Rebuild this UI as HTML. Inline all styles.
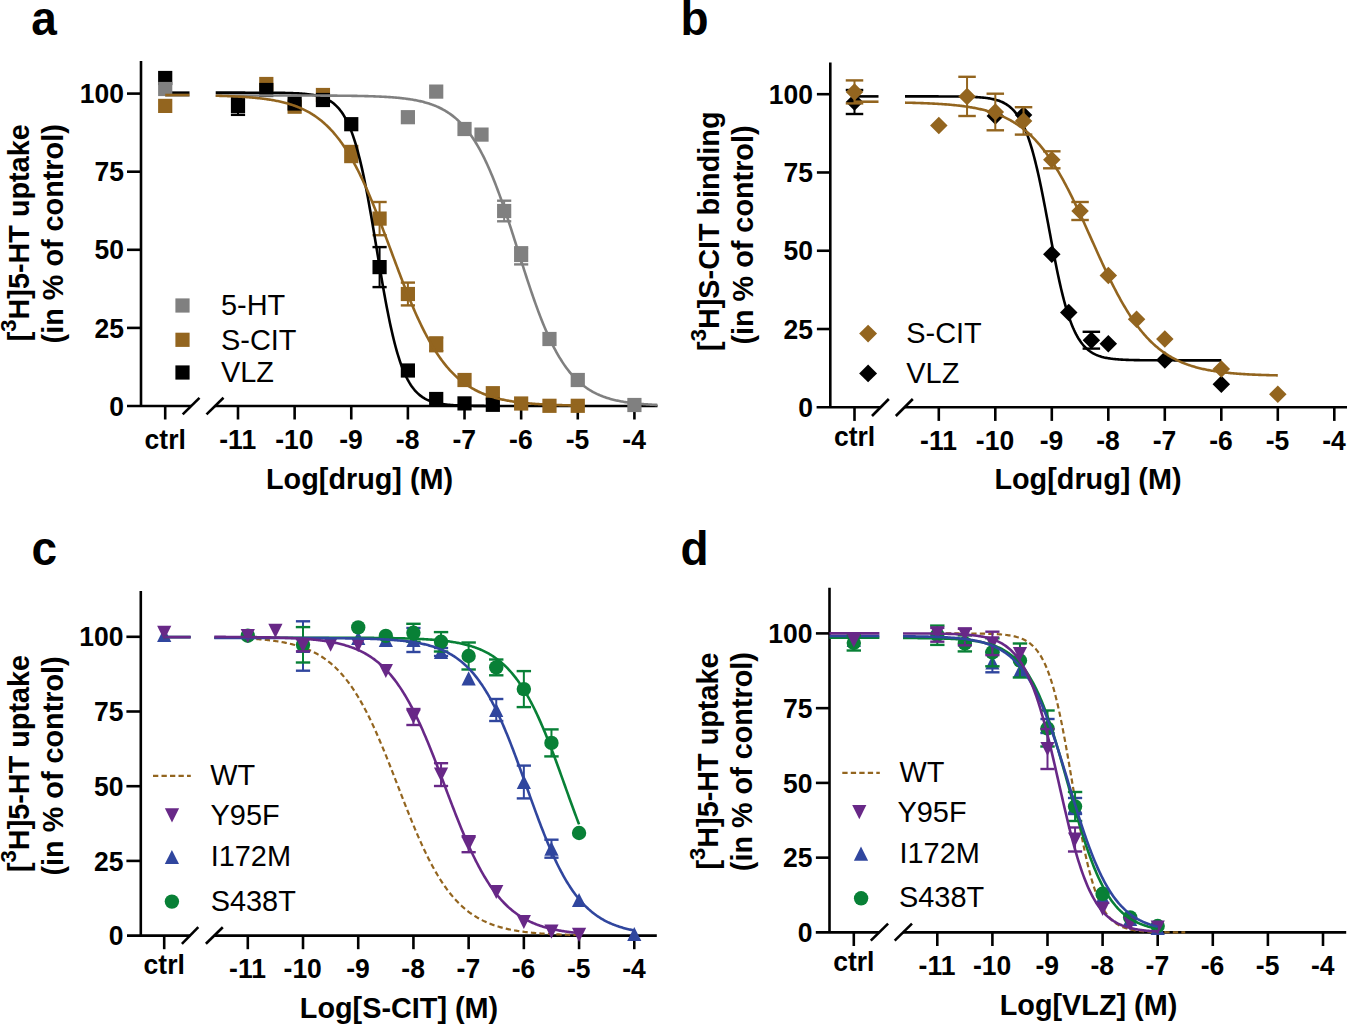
<!DOCTYPE html>
<html><head><meta charset="utf-8"><style>
html,body{margin:0;padding:0;background:#fff;}
body{width:1347px;height:1025px;overflow:hidden;}
svg{display:block;font-family:"Liberation Sans", sans-serif;}
</style></head><body>
<svg width="1347" height="1025" viewBox="0 0 1347 1025">
<rect width="1347" height="1025" fill="#fff"/>
<line x1="141" y1="61" x2="141" y2="406" stroke="#000000" stroke-width="2.6" />
<line x1="127" y1="327.9" x2="141" y2="327.9" stroke="#000000" stroke-width="2.6" />
<line x1="127" y1="249.8" x2="141" y2="249.8" stroke="#000000" stroke-width="2.6" />
<line x1="127" y1="171.7" x2="141" y2="171.7" stroke="#000000" stroke-width="2.6" />
<line x1="127" y1="93.6" x2="141" y2="93.6" stroke="#000000" stroke-width="2.6" />
<line x1="127" y1="406" x2="191" y2="406" stroke="#000000" stroke-width="2.6" />
<line x1="215" y1="406" x2="657.5" y2="406" stroke="#000000" stroke-width="2.6" />
<line x1="165.2" y1="406" x2="165.2" y2="419.5" stroke="#000000" stroke-width="2.6" />
<line x1="238" y1="406" x2="238" y2="419.5" stroke="#000000" stroke-width="2.6" />
<line x1="294.63" y1="406" x2="294.63" y2="419.5" stroke="#000000" stroke-width="2.6" />
<line x1="351.26" y1="406" x2="351.26" y2="419.5" stroke="#000000" stroke-width="2.6" />
<line x1="407.89" y1="406" x2="407.89" y2="419.5" stroke="#000000" stroke-width="2.6" />
<line x1="464.52" y1="406" x2="464.52" y2="419.5" stroke="#000000" stroke-width="2.6" />
<line x1="521.15" y1="406" x2="521.15" y2="419.5" stroke="#000000" stroke-width="2.6" />
<line x1="577.78" y1="406" x2="577.78" y2="419.5" stroke="#000000" stroke-width="2.6" />
<line x1="634.41" y1="406" x2="634.41" y2="419.5" stroke="#000000" stroke-width="2.6" />
<line x1="182.7" y1="414.4" x2="199.5" y2="397.8" stroke="#000000" stroke-width="2.6" />
<line x1="206.5" y1="414.4" x2="223.5" y2="397.8" stroke="#000000" stroke-width="2.6" />
<text transform="translate(124,415.6) scale(1,1.05)" font-size="26.5" font-weight="bold" text-anchor="end" fill="#000000" >0</text>
<text transform="translate(124,337.5) scale(1,1.05)" font-size="26.5" font-weight="bold" text-anchor="end" fill="#000000" >25</text>
<text transform="translate(124,259.4) scale(1,1.05)" font-size="26.5" font-weight="bold" text-anchor="end" fill="#000000" >50</text>
<text transform="translate(124,181.3) scale(1,1.05)" font-size="26.5" font-weight="bold" text-anchor="end" fill="#000000" >75</text>
<text transform="translate(124,103.2) scale(1,1.05)" font-size="26.5" font-weight="bold" text-anchor="end" fill="#000000" >100</text>
<text transform="translate(165.2,448.6) scale(1,1.05)" font-size="26.5" font-weight="bold" text-anchor="middle" fill="#000000" >ctrl</text>
<text transform="translate(237.7,448.6) scale(1,1.05)" font-size="26.5" font-weight="bold" text-anchor="middle" fill="#000000" >-11</text>
<text transform="translate(294.33,448.6) scale(1,1.05)" font-size="26.5" font-weight="bold" text-anchor="middle" fill="#000000" >-10</text>
<text transform="translate(350.96,448.6) scale(1,1.05)" font-size="26.5" font-weight="bold" text-anchor="middle" fill="#000000" >-9</text>
<text transform="translate(407.59,448.6) scale(1,1.05)" font-size="26.5" font-weight="bold" text-anchor="middle" fill="#000000" >-8</text>
<text transform="translate(464.22,448.6) scale(1,1.05)" font-size="26.5" font-weight="bold" text-anchor="middle" fill="#000000" >-7</text>
<text transform="translate(520.85,448.6) scale(1,1.05)" font-size="26.5" font-weight="bold" text-anchor="middle" fill="#000000" >-6</text>
<text transform="translate(577.48,448.6) scale(1,1.05)" font-size="26.5" font-weight="bold" text-anchor="middle" fill="#000000" >-5</text>
<text transform="translate(634.11,448.6) scale(1,1.05)" font-size="26.5" font-weight="bold" text-anchor="middle" fill="#000000" >-4</text>
<text x="359.6" y="488.6" font-size="28.8" font-weight="bold" text-anchor="middle" fill="#000000" >Log[drug] (M)</text>
<text transform="translate(28.8,341.3) rotate(-90)" font-size="28.8" font-weight="bold" text-anchor="start">[<tspan font-size="22" dy="-12.4">3</tspan><tspan dy="12.4">H]</tspan>5-HT uptake</text>
<text transform="translate(63.4,343.4) rotate(-90)" font-size="28.8" font-weight="bold" text-anchor="start">(in % of control)</text>
<text transform="translate(31.2,35.3) scale(1,1.025)" font-size="46" font-weight="bold" text-anchor="start" fill="#000000" >a</text>
<line x1="351.26" y1="146" x2="351.26" y2="162" stroke="#93651F" stroke-width="2.0" />
<line x1="344.16" y1="146" x2="358.36" y2="146" stroke="#93651F" stroke-width="2.4" />
<line x1="344.16" y1="162" x2="358.36" y2="162" stroke="#93651F" stroke-width="2.4" />
<line x1="379.58" y1="202" x2="379.58" y2="235.2" stroke="#93651F" stroke-width="2.0" />
<line x1="372.48" y1="202" x2="386.68" y2="202" stroke="#93651F" stroke-width="2.4" />
<line x1="372.48" y1="235.2" x2="386.68" y2="235.2" stroke="#93651F" stroke-width="2.4" />
<line x1="407.89" y1="282.6" x2="407.89" y2="305.4" stroke="#93651F" stroke-width="2.0" />
<line x1="400.79" y1="282.6" x2="414.99" y2="282.6" stroke="#93651F" stroke-width="2.4" />
<line x1="400.79" y1="305.4" x2="414.99" y2="305.4" stroke="#93651F" stroke-width="2.4" />
<line x1="436.21" y1="337.4" x2="436.21" y2="351.2" stroke="#93651F" stroke-width="2.0" />
<line x1="429.11" y1="337.4" x2="443.31" y2="337.4" stroke="#93651F" stroke-width="2.4" />
<line x1="429.11" y1="351.2" x2="443.31" y2="351.2" stroke="#93651F" stroke-width="2.4" />
<rect x="158.1" y="98.8" width="14.2" height="14.2" fill="#93651F"/>
<rect x="259.21" y="76.9" width="14.2" height="14.2" fill="#93651F"/>
<rect x="287.53" y="99.6" width="14.2" height="14.2" fill="#93651F"/>
<rect x="315.84" y="87.9" width="14.2" height="14.2" fill="#93651F"/>
<rect x="344.16" y="146.9" width="14.2" height="14.2" fill="#93651F"/>
<rect x="372.48" y="211.5" width="14.2" height="14.2" fill="#93651F"/>
<rect x="400.79" y="286.9" width="14.2" height="14.2" fill="#93651F"/>
<rect x="429.11" y="337.2" width="14.2" height="14.2" fill="#93651F"/>
<rect x="457.42" y="372.9" width="14.2" height="14.2" fill="#93651F"/>
<rect x="485.74" y="386.1" width="14.2" height="14.2" fill="#93651F"/>
<rect x="514.05" y="396.4" width="14.2" height="14.2" fill="#93651F"/>
<rect x="542.37" y="398.7" width="14.2" height="14.2" fill="#93651F"/>
<rect x="570.68" y="398.7" width="14.2" height="14.2" fill="#93651F"/>
<line x1="238" y1="98.3" x2="238" y2="114.85" stroke="#000000" stroke-width="2.0" />
<line x1="230.9" y1="98.3" x2="245.1" y2="98.3" stroke="#000000" stroke-width="2.4" />
<line x1="230.9" y1="114.85" x2="245.1" y2="114.85" stroke="#000000" stroke-width="2.4" />
<line x1="379.58" y1="247.1" x2="379.58" y2="287.1" stroke="#000000" stroke-width="2.0" />
<line x1="372.48" y1="247.1" x2="386.68" y2="247.1" stroke="#000000" stroke-width="2.4" />
<line x1="372.48" y1="287.1" x2="386.68" y2="287.1" stroke="#000000" stroke-width="2.4" />
<rect x="158.1" y="70.9" width="14.2" height="14.2" fill="#000000"/>
<rect x="230.9" y="98.9" width="14.2" height="14.2" fill="#000000"/>
<rect x="259.21" y="82.9" width="14.2" height="14.2" fill="#000000"/>
<rect x="287.53" y="96.4" width="14.2" height="14.2" fill="#000000"/>
<rect x="315.84" y="92.9" width="14.2" height="14.2" fill="#000000"/>
<rect x="344.16" y="117.1" width="14.2" height="14.2" fill="#000000"/>
<rect x="372.48" y="260" width="14.2" height="14.2" fill="#000000"/>
<rect x="400.79" y="363.4" width="14.2" height="14.2" fill="#000000"/>
<rect x="429.11" y="391.9" width="14.2" height="14.2" fill="#000000"/>
<rect x="457.42" y="396.3" width="14.2" height="14.2" fill="#000000"/>
<rect x="485.74" y="397.7" width="14.2" height="14.2" fill="#000000"/>
<line x1="165.2" y1="92.66" x2="189.5" y2="92.66" stroke="#000000" stroke-width="2.6" />
<polyline points="215.7,92.66 216.7,92.66 217.7,92.66 218.7,92.66 219.7,92.66 220.7,92.66 221.7,92.66 222.7,92.66 223.7,92.67 224.7,92.67 225.7,92.67 226.71,92.67 227.71,92.67 228.71,92.67 229.71,92.67 230.71,92.67 231.71,92.67 232.71,92.67 233.71,92.67 234.71,92.67 235.71,92.67 236.71,92.67 237.71,92.67 238.71,92.67 239.71,92.67 240.71,92.67 241.71,92.67 242.71,92.67 243.71,92.67 244.71,92.67 245.71,92.68 246.72,92.68 247.72,92.68 248.72,92.68 249.72,92.68 250.72,92.68 251.72,92.68 252.72,92.68 253.72,92.69 254.72,92.69 255.72,92.69 256.72,92.69 257.72,92.69 258.72,92.7 259.72,92.7 260.72,92.7 261.72,92.71 262.72,92.71 263.72,92.71 264.72,92.72 265.72,92.72 266.72,92.73 267.73,92.73 268.73,92.74 269.73,92.74 270.73,92.75 271.73,92.76 272.73,92.76 273.73,92.77 274.73,92.78 275.73,92.79 276.73,92.8 277.73,92.81 278.73,92.82 279.73,92.84 280.73,92.85 281.73,92.87 282.73,92.88 283.73,92.9 284.73,92.92 285.73,92.94 286.73,92.96 287.74,92.99 288.74,93.01 289.74,93.04 290.74,93.07 291.74,93.1 292.74,93.14 293.74,93.18 294.74,93.22 295.74,93.26 296.74,93.31 297.74,93.36 298.74,93.42 299.74,93.48 300.74,93.54 301.74,93.61 302.74,93.69 303.74,93.77 304.74,93.86 305.74,93.96 306.74,94.06 307.74,94.17 308.75,94.29 309.75,94.42 310.75,94.56 311.75,94.72 312.75,94.88 313.75,95.06 314.75,95.25 315.75,95.45 316.75,95.68 317.75,95.91 318.75,96.17 319.75,96.45 320.75,96.75 321.75,97.08 322.75,97.43 323.75,97.8 324.75,98.21 325.75,98.65 326.75,99.12 327.75,99.62 328.76,100.17 329.76,100.76 330.76,101.39 331.76,102.07 332.76,102.8 333.76,103.59 334.76,104.43 335.76,105.34 336.76,106.31 337.76,107.36 338.76,108.48 339.76,109.68 340.76,110.97 341.76,112.35 342.76,113.82 343.76,115.4 344.76,117.08 345.76,118.88 346.76,120.8 347.76,122.84 348.76,125.02 349.77,127.33 350.77,129.79 351.77,132.39 352.77,135.15 353.77,138.07 354.77,141.16 355.77,144.41 356.77,147.84 357.77,151.44 358.77,155.22 359.77,159.18 360.77,163.32 361.77,167.64 362.77,172.13 363.77,176.8 364.77,181.64 365.77,186.65 366.77,191.81 367.77,197.12 368.77,202.57 369.78,208.15 370.78,213.84 371.78,219.63 372.78,225.51 373.78,231.46 374.78,237.46 375.78,243.49 376.78,249.54 377.78,255.59 378.78,261.63 379.78,267.62 380.78,273.57 381.78,279.44 382.78,285.22 383.78,290.91 384.78,296.47 385.78,301.91 386.78,307.22 387.78,312.37 388.78,317.36 389.78,322.19 390.79,326.85 391.79,331.34 392.79,335.64 393.79,339.77 394.79,343.72 395.79,347.48 396.79,351.07 397.79,354.49 398.79,357.73 399.79,360.8 400.79,363.71 401.79,366.46 402.79,369.05 403.79,371.5 404.79,373.8 405.79,375.97 406.79,378 407.79,379.91 408.79,381.7 409.79,383.38 410.8,384.95 411.8,386.41 412.8,387.79 413.8,389.07 414.8,390.26 415.8,391.38 416.8,392.42 417.8,393.39 418.8,394.29 419.8,395.13 420.8,395.92 421.8,396.64 422.8,397.32 423.8,397.95 424.8,398.53 425.8,399.08 426.8,399.58 427.8,400.05 428.8,400.48 429.8,400.89 430.8,401.26 431.81,401.61 432.81,401.93 433.81,402.23 434.81,402.51 435.81,402.77 436.81,403 437.81,403.22 438.81,403.43 439.81,403.62 440.81,403.79 441.81,403.96 442.81,404.11 443.81,404.25 444.81,404.38 445.81,404.5 446.81,404.61 447.81,404.71 448.81,404.81 449.81,404.9 450.81,404.98 451.82,405.05 452.82,405.12 453.82,405.19 454.82,405.25 455.82,405.3 456.82,405.36 457.82,405.4 458.82,405.45 459.82,405.49 460.82,405.53 461.82,405.56 462.82,405.59 463.82,405.63 464.82,405.65 465.82,405.68 466.82,405.7 467.82,405.72 468.82,405.75 469.82,405.76 470.82,405.78 471.82,405.8 472.83,405.81 473.83,405.83 474.83,405.84 475.83,405.85 476.83,405.86 477.83,405.87 478.83,405.88 479.83,405.89 480.83,405.9 481.83,405.91 482.83,405.91 483.83,405.92 484.83,405.93 485.83,405.93 486.83,405.94 487.83,405.94 488.83,405.95 489.83,405.95 490.83,405.95 491.83,405.96 492.84,405.96" fill="none" stroke="#000000" stroke-width="2.6" stroke-linejoin="round"/>
<line x1="504.16" y1="200.7" x2="504.16" y2="221.3" stroke="#808080" stroke-width="2.0" />
<line x1="497.06" y1="200.7" x2="511.26" y2="200.7" stroke="#808080" stroke-width="2.4" />
<line x1="497.06" y1="221.3" x2="511.26" y2="221.3" stroke="#808080" stroke-width="2.4" />
<line x1="521.15" y1="247.3" x2="521.15" y2="264.4" stroke="#808080" stroke-width="2.0" />
<line x1="514.05" y1="247.3" x2="528.25" y2="247.3" stroke="#808080" stroke-width="2.4" />
<line x1="514.05" y1="264.4" x2="528.25" y2="264.4" stroke="#808080" stroke-width="2.4" />
<rect x="158.1" y="81.9" width="14.2" height="14.2" fill="#808080"/>
<rect x="400.79" y="110.1" width="14.2" height="14.2" fill="#808080"/>
<rect x="429.11" y="84.5" width="14.2" height="14.2" fill="#808080"/>
<rect x="457.42" y="121.9" width="14.2" height="14.2" fill="#808080"/>
<rect x="474.41" y="127.5" width="14.2" height="14.2" fill="#808080"/>
<rect x="497.06" y="203.9" width="14.2" height="14.2" fill="#808080"/>
<rect x="514.05" y="247.9" width="14.2" height="14.2" fill="#808080"/>
<rect x="542.37" y="331.9" width="14.2" height="14.2" fill="#808080"/>
<rect x="570.68" y="372.9" width="14.2" height="14.2" fill="#808080"/>
<rect x="627.31" y="397.9" width="14.2" height="14.2" fill="#808080"/>
<line x1="165.2" y1="95.4" x2="189.5" y2="95.4" stroke="#808080" stroke-width="2.6" />
<polyline points="215.7,95.48 216.7,95.48 217.7,95.48 218.7,95.48 219.71,95.48 220.71,95.48 221.71,95.48 222.71,95.48 223.71,95.48 224.71,95.48 225.72,95.48 226.72,95.48 227.72,95.48 228.72,95.48 229.72,95.48 230.72,95.48 231.73,95.48 232.73,95.48 233.73,95.48 234.73,95.48 235.73,95.48 236.73,95.48 237.73,95.48 238.74,95.48 239.74,95.48 240.74,95.48 241.74,95.48 242.74,95.48 243.74,95.48 244.75,95.48 245.75,95.48 246.75,95.48 247.75,95.48 248.75,95.48 249.75,95.48 250.76,95.48 251.76,95.48 252.76,95.48 253.76,95.48 254.76,95.48 255.76,95.48 256.77,95.48 257.77,95.48 258.77,95.48 259.77,95.48 260.77,95.48 261.77,95.48 262.77,95.48 263.78,95.48 264.78,95.48 265.78,95.49 266.78,95.49 267.78,95.49 268.78,95.49 269.79,95.49 270.79,95.49 271.79,95.49 272.79,95.49 273.79,95.49 274.79,95.49 275.8,95.49 276.8,95.49 277.8,95.49 278.8,95.49 279.8,95.49 280.8,95.49 281.8,95.5 282.81,95.5 283.81,95.5 284.81,95.5 285.81,95.5 286.81,95.5 287.81,95.5 288.82,95.5 289.82,95.5 290.82,95.5 291.82,95.51 292.82,95.51 293.82,95.51 294.83,95.51 295.83,95.51 296.83,95.51 297.83,95.51 298.83,95.52 299.83,95.52 300.83,95.52 301.84,95.52 302.84,95.52 303.84,95.53 304.84,95.53 305.84,95.53 306.84,95.53 307.85,95.53 308.85,95.54 309.85,95.54 310.85,95.54 311.85,95.55 312.85,95.55 313.86,95.55 314.86,95.55 315.86,95.56 316.86,95.56 317.86,95.57 318.86,95.57 319.87,95.57 320.87,95.58 321.87,95.58 322.87,95.59 323.87,95.59 324.87,95.59 325.87,95.6 326.88,95.61 327.88,95.61 328.88,95.62 329.88,95.62 330.88,95.63 331.88,95.63 332.89,95.64 333.89,95.65 334.89,95.66 335.89,95.66 336.89,95.67 337.89,95.68 338.9,95.69 339.9,95.7 340.9,95.71 341.9,95.72 342.9,95.73 343.9,95.74 344.9,95.75 345.91,95.76 346.91,95.77 347.91,95.78 348.91,95.79 349.91,95.81 350.91,95.82 351.92,95.84 352.92,95.85 353.92,95.87 354.92,95.88 355.92,95.9 356.92,95.92 357.93,95.94 358.93,95.96 359.93,95.97 360.93,96 361.93,96.02 362.93,96.04 363.93,96.06 364.94,96.09 365.94,96.11 366.94,96.14 367.94,96.17 368.94,96.2 369.94,96.23 370.95,96.26 371.95,96.29 372.95,96.32 373.95,96.36 374.95,96.4 375.95,96.43 376.96,96.47 377.96,96.51 378.96,96.56 379.96,96.6 380.96,96.65 381.96,96.7 382.97,96.75 383.97,96.8 384.97,96.86 385.97,96.91 386.97,96.97 387.97,97.03 388.97,97.1 389.98,97.17 390.98,97.24 391.98,97.31 392.98,97.38 393.98,97.46 394.98,97.55 395.99,97.63 396.99,97.72 397.99,97.81 398.99,97.91 399.99,98.01 400.99,98.11 402,98.22 403,98.34 404,98.45 405,98.58 406,98.7 407,98.84 408,98.98 409.01,99.12 410.01,99.27 411.01,99.42 412.01,99.59 413.01,99.76 414.01,99.93 415.02,100.11 416.02,100.3 417.02,100.5 418.02,100.71 419.02,100.92 420.02,101.14 421.03,101.37 422.03,101.61 423.03,101.86 424.03,102.12 425.03,102.39 426.03,102.67 427.03,102.97 428.04,103.27 429.04,103.58 430.04,103.91 431.04,104.25 432.04,104.61 433.04,104.98 434.05,105.36 435.05,105.76 436.05,106.17 437.05,106.6 438.05,107.04 439.05,107.5 440.06,107.98 441.06,108.48 442.06,109 443.06,109.54 444.06,110.09 445.06,110.67 446.07,111.27 447.07,111.89 448.07,112.54 449.07,113.21 450.07,113.9 451.07,114.62 452.07,115.36 453.08,116.13 454.08,116.93 455.08,117.76 456.08,118.62 457.08,119.51 458.08,120.42 459.09,121.38 460.09,122.36 461.09,123.38 462.09,124.43 463.09,125.51 464.09,126.64 465.1,127.8 466.1,129 467.1,130.23 468.1,131.51 469.1,132.83 470.1,134.19 471.1,135.59 472.11,137.03 473.11,138.52 474.11,140.05 475.11,141.63 476.11,143.25 477.11,144.92 478.12,146.64 479.12,148.4 480.12,150.22 481.12,152.08 482.12,153.99 483.12,155.95 484.13,157.95 485.13,160.01 486.13,162.12 487.13,164.27 488.13,166.48 489.13,168.73 490.13,171.04 491.14,173.39 492.14,175.79 493.14,178.24 494.14,180.74 495.14,183.28 496.14,185.87 497.15,188.5 498.15,191.17 499.15,193.89 500.15,196.65 501.15,199.44 502.15,202.28 503.16,205.15 504.16,208.06 505.16,211 506.16,213.97 507.16,216.96 508.16,219.99 509.17,223.04 510.17,226.11 511.17,229.2 512.17,232.31 513.17,235.43 514.17,238.57 515.17,241.72 516.18,244.87 517.18,248.03 518.18,251.19 519.18,254.35 520.18,257.51 521.18,260.66 522.19,263.81 523.19,266.94 524.19,270.06 525.19,273.16 526.19,276.25 527.19,279.32 528.2,282.36 529.2,285.38 530.2,288.37 531.2,291.33 532.2,294.26 533.2,297.15 534.2,300.01 535.21,302.84 536.21,305.62 537.21,308.37 538.21,311.08 539.21,313.74 540.21,316.36 541.22,318.93 542.22,321.46 543.22,323.94 544.22,326.38 545.22,328.76 546.22,331.1 547.23,333.39 548.23,335.63 549.23,337.83 550.23,339.97 551.23,342.06 552.23,344.1 553.23,346.1 554.24,348.04 555.24,349.94 556.24,351.78 557.24,353.58 558.24,355.33 559.24,357.04 560.25,358.69 561.25,360.3 562.25,361.87 563.25,363.39 564.25,364.86 565.25,366.29 566.26,367.68 567.26,369.03 568.26,370.33 569.26,371.6 570.26,372.83 571.26,374.01 572.27,375.16 573.27,376.28 574.27,377.35 575.27,378.39 576.27,379.4 577.27,380.38 578.27,381.32 579.28,382.23 580.28,383.11 581.28,383.95 582.28,384.77 583.28,385.57 584.28,386.33 585.29,387.07 586.29,387.78 587.29,388.46 588.29,389.13 589.29,389.76 590.29,390.38 591.3,390.97 592.3,391.54 593.3,392.1 594.3,392.63 595.3,393.14 596.3,393.63 597.3,394.11 598.31,394.56 599.31,395 600.31,395.43 601.31,395.83 602.31,396.23 603.31,396.61 604.32,396.97 605.32,397.32 606.32,397.66 607.32,397.98 608.32,398.29 609.32,398.59 610.33,398.88 611.33,399.16 612.33,399.43 613.33,399.68 614.33,399.93 615.33,400.17 616.33,400.4 617.34,400.62 618.34,400.83 619.34,401.03 620.34,401.23 621.34,401.41 622.34,401.59 623.35,401.77 624.35,401.93 625.35,402.1 626.35,402.25 627.35,402.4 628.35,402.54 629.36,402.68 630.36,402.81 631.36,402.93 632.36,403.05 633.36,403.17 634.36,403.28 635.37,403.39 636.37,403.49 637.37,403.59 638.37,403.69 639.37,403.78 640.37,403.87 641.37,403.95 642.38,404.03 643.38,404.11 644.38,404.19 645.38,404.26 646.38,404.33 647.38,404.39 648.39,404.46 649.39,404.52 650.39,404.58 651.39,404.63 652.39,404.69 653.39,404.74 654.4,404.79 655.4,404.84 656.4,404.89 657.4,404.93" fill="none" stroke="#808080" stroke-width="2.6" stroke-linejoin="round"/>
<line x1="165.2" y1="95.01" x2="189.5" y2="95.01" stroke="#93651F" stroke-width="2.6" />
<polyline points="215.7,95.73 216.7,95.76 217.7,95.79 218.7,95.81 219.7,95.84 220.7,95.87 221.7,95.9 222.7,95.93 223.7,95.96 224.7,96 225.7,96.03 226.7,96.07 227.7,96.11 228.7,96.15 229.7,96.18 230.7,96.23 231.7,96.27 232.7,96.31 233.7,96.36 234.7,96.41 235.7,96.46 236.7,96.51 237.7,96.56 238.71,96.61 239.71,96.67 240.71,96.73 241.71,96.79 242.71,96.85 243.71,96.91 244.71,96.98 245.71,97.05 246.71,97.12 247.71,97.2 248.71,97.27 249.71,97.35 250.71,97.43 251.71,97.52 252.71,97.61 253.71,97.7 254.71,97.79 255.71,97.89 256.71,97.99 257.71,98.09 258.71,98.2 259.71,98.31 260.71,98.42 261.71,98.54 262.71,98.67 263.71,98.79 264.71,98.92 265.71,99.06 266.71,99.2 267.71,99.35 268.71,99.5 269.71,99.65 270.71,99.81 271.71,99.98 272.71,100.15 273.71,100.33 274.71,100.51 275.71,100.7 276.71,100.9 277.71,101.1 278.71,101.31 279.71,101.53 280.71,101.76 281.71,101.99 282.71,102.23 283.72,102.48 284.72,102.73 285.72,103 286.72,103.27 287.72,103.55 288.72,103.85 289.72,104.15 290.72,104.46 291.72,104.78 292.72,105.11 293.72,105.46 294.72,105.81 295.72,106.18 296.72,106.56 297.72,106.95 298.72,107.35 299.72,107.77 300.72,108.2 301.72,108.64 302.72,109.1 303.72,109.57 304.72,110.06 305.72,110.56 306.72,111.08 307.72,111.62 308.72,112.17 309.72,112.74 310.72,113.33 311.72,113.93 312.72,114.55 313.72,115.2 314.72,115.86 315.72,116.54 316.72,117.25 317.72,117.97 318.72,118.72 319.72,119.48 320.72,120.28 321.72,121.09 322.72,121.93 323.72,122.79 324.72,123.68 325.72,124.59 326.72,125.53 327.72,126.49 328.72,127.48 329.73,128.5 330.73,129.55 331.73,130.63 332.73,131.73 333.73,132.87 334.73,134.03 335.73,135.23 336.73,136.45 337.73,137.71 338.73,139 339.73,140.32 340.73,141.68 341.73,143.06 342.73,144.49 343.73,145.94 344.73,147.43 345.73,148.96 346.73,150.51 347.73,152.11 348.73,153.74 349.73,155.4 350.73,157.1 351.73,158.84 352.73,160.61 353.73,162.42 354.73,164.26 355.73,166.14 356.73,168.05 357.73,170 358.73,171.99 359.73,174.01 360.73,176.06 361.73,178.15 362.73,180.27 363.73,182.43 364.73,184.62 365.73,186.84 366.73,189.09 367.73,191.38 368.73,193.69 369.73,196.03 370.73,198.41 371.73,200.81 372.73,203.23 373.73,205.68 374.74,208.16 375.74,210.66 376.74,213.18 377.74,215.72 378.74,218.29 379.74,220.87 380.74,223.47 381.74,226.08 382.74,228.71 383.74,231.35 384.74,234 385.74,236.67 386.74,239.34 387.74,242.01 388.74,244.69 389.74,247.38 390.74,250.07 391.74,252.75 392.74,255.44 393.74,258.12 394.74,260.8 395.74,263.47 396.74,266.14 397.74,268.8 398.74,271.44 399.74,274.07 400.74,276.69 401.74,279.3 402.74,281.88 403.74,284.45 404.74,287 405.74,289.53 406.74,292.04 407.74,294.52 408.74,296.98 409.74,299.42 410.74,301.82 411.74,304.21 412.74,306.56 413.74,308.88 414.74,311.18 415.74,313.44 416.74,315.67 417.74,317.87 418.74,320.04 419.75,322.17 420.75,324.27 421.75,326.34 422.75,328.37 423.75,330.36 424.75,332.32 425.75,334.25 426.75,336.14 427.75,337.99 428.75,339.81 429.75,341.6 430.75,343.34 431.75,345.06 432.75,346.73 433.75,348.37 434.75,349.98 435.75,351.55 436.75,353.08 437.75,354.58 438.75,356.05 439.75,357.48 440.75,358.88 441.75,360.25 442.75,361.58 443.75,362.88 444.75,364.15 445.75,365.38 446.75,366.59 447.75,367.76 448.75,368.91 449.75,370.02 450.75,371.11 451.75,372.16 452.75,373.19 453.75,374.19 454.75,375.17 455.75,376.11 456.75,377.04 457.75,377.93 458.75,378.8 459.75,379.65 460.75,380.47 461.75,381.27 462.75,382.04 463.75,382.8 464.76,383.53 465.76,384.24 466.76,384.93 467.76,385.6 468.76,386.25 469.76,386.88 470.76,387.49 471.76,388.08 472.76,388.65 473.76,389.21 474.76,389.75 475.76,390.28 476.76,390.78 477.76,391.28 478.76,391.75 479.76,392.22 480.76,392.67 481.76,393.1 482.76,393.52 483.76,393.93 484.76,394.32 485.76,394.71 486.76,395.08 487.76,395.43 488.76,395.78 489.76,396.12 490.76,396.44 491.76,396.76 492.76,397.06 493.76,397.36 494.76,397.64 495.76,397.92 496.76,398.19 497.76,398.45 498.76,398.7 499.76,398.94 500.76,399.17 501.76,399.4 502.76,399.62 503.76,399.83 504.76,400.04 505.76,400.24 506.76,400.43 507.76,400.62 508.76,400.8 509.76,400.97 510.77,401.14 511.77,401.3 512.77,401.46 513.77,401.61 514.77,401.76 515.77,401.9 516.77,402.04 517.77,402.17 518.77,402.3 519.77,402.42 520.77,402.54 521.77,402.66 522.77,402.77 523.77,402.88 524.77,402.99 525.77,403.09 526.77,403.19 527.77,403.28 528.77,403.37 529.77,403.46 530.77,403.55 531.77,403.63 532.77,403.71 533.77,403.79 534.77,403.86 535.77,403.93 536.77,404 537.77,404.07 538.77,404.14 539.77,404.2 540.77,404.26 541.77,404.32 542.77,404.37 543.77,404.43 544.77,404.48 545.77,404.53 546.77,404.58 547.77,404.63 548.77,404.68 549.77,404.72 550.77,404.77 551.77,404.81 552.77,404.85 553.77,404.89 554.77,404.92 555.78,404.96 556.78,405 557.78,405.03 558.78,405.06 559.78,405.09 560.78,405.13 561.78,405.16 562.78,405.18 563.78,405.21 564.78,405.24 565.78,405.26 566.78,405.29 567.78,405.31 568.78,405.34 569.78,405.36 570.78,405.38 571.78,405.4 572.78,405.42 573.78,405.44 574.78,405.46 575.78,405.48 576.78,405.5 577.78,405.51" fill="none" stroke="#93651F" stroke-width="2.6" stroke-linejoin="round"/>
<rect x="175.4" y="298.4" width="14.2" height="14.2" fill="#808080"/>
<text transform="translate(221,315.3) scale(1,1.02)" font-size="28.9" font-weight="normal" text-anchor="start" fill="#000000" >5-HT</text>
<rect x="175.4" y="332.7" width="14.2" height="14.2" fill="#93651F"/>
<text transform="translate(221,349.6) scale(1,1.02)" font-size="28.9" font-weight="normal" text-anchor="start" fill="#000000" >S-CIT</text>
<rect x="175.4" y="365.4" width="14.2" height="14.2" fill="#000000"/>
<text transform="translate(221,382.3) scale(1,1.02)" font-size="28.9" font-weight="normal" text-anchor="start" fill="#000000" >VLZ</text>
<line x1="830.3" y1="62.6" x2="830.3" y2="407.3" stroke="#000000" stroke-width="2.6" />
<line x1="816.9" y1="329.02" x2="830.3" y2="329.02" stroke="#000000" stroke-width="2.6" />
<line x1="816.9" y1="250.75" x2="830.3" y2="250.75" stroke="#000000" stroke-width="2.6" />
<line x1="816.9" y1="172.48" x2="830.3" y2="172.48" stroke="#000000" stroke-width="2.6" />
<line x1="816.9" y1="94.2" x2="830.3" y2="94.2" stroke="#000000" stroke-width="2.6" />
<line x1="816.6" y1="407.3" x2="880.4" y2="407.3" stroke="#000000" stroke-width="2.6" />
<line x1="904.3" y1="407.3" x2="1347" y2="407.3" stroke="#000000" stroke-width="2.6" />
<line x1="854.5" y1="407.3" x2="854.5" y2="420.9" stroke="#000000" stroke-width="2.6" />
<line x1="938.8" y1="407.3" x2="938.8" y2="420.9" stroke="#000000" stroke-width="2.6" />
<line x1="995.3" y1="407.3" x2="995.3" y2="420.9" stroke="#000000" stroke-width="2.6" />
<line x1="1051.8" y1="407.3" x2="1051.8" y2="420.9" stroke="#000000" stroke-width="2.6" />
<line x1="1108.3" y1="407.3" x2="1108.3" y2="420.9" stroke="#000000" stroke-width="2.6" />
<line x1="1164.8" y1="407.3" x2="1164.8" y2="420.9" stroke="#000000" stroke-width="2.6" />
<line x1="1221.3" y1="407.3" x2="1221.3" y2="420.9" stroke="#000000" stroke-width="2.6" />
<line x1="1277.8" y1="407.3" x2="1277.8" y2="420.9" stroke="#000000" stroke-width="2.6" />
<line x1="1334.3" y1="407.3" x2="1334.3" y2="420.9" stroke="#000000" stroke-width="2.6" />
<line x1="872" y1="416" x2="888.8" y2="399" stroke="#000000" stroke-width="2.6" />
<line x1="895.8" y1="416" x2="912.8" y2="399" stroke="#000000" stroke-width="2.6" />
<text transform="translate(813,416.9) scale(1,1.05)" font-size="26.5" font-weight="bold" text-anchor="end" fill="#000000" >0</text>
<text transform="translate(813,338.62) scale(1,1.05)" font-size="26.5" font-weight="bold" text-anchor="end" fill="#000000" >25</text>
<text transform="translate(813,260.35) scale(1,1.05)" font-size="26.5" font-weight="bold" text-anchor="end" fill="#000000" >50</text>
<text transform="translate(813,182.08) scale(1,1.05)" font-size="26.5" font-weight="bold" text-anchor="end" fill="#000000" >75</text>
<text transform="translate(813,103.8) scale(1,1.05)" font-size="26.5" font-weight="bold" text-anchor="end" fill="#000000" >100</text>
<text transform="translate(854.5,446) scale(1,1.05)" font-size="26.5" font-weight="bold" text-anchor="middle" fill="#000000" >ctrl</text>
<text transform="translate(938.5,449.9) scale(1,1.05)" font-size="26.5" font-weight="bold" text-anchor="middle" fill="#000000" >-11</text>
<text transform="translate(995,449.9) scale(1,1.05)" font-size="26.5" font-weight="bold" text-anchor="middle" fill="#000000" >-10</text>
<text transform="translate(1051.5,449.9) scale(1,1.05)" font-size="26.5" font-weight="bold" text-anchor="middle" fill="#000000" >-9</text>
<text transform="translate(1108,449.9) scale(1,1.05)" font-size="26.5" font-weight="bold" text-anchor="middle" fill="#000000" >-8</text>
<text transform="translate(1164.5,449.9) scale(1,1.05)" font-size="26.5" font-weight="bold" text-anchor="middle" fill="#000000" >-7</text>
<text transform="translate(1221,449.9) scale(1,1.05)" font-size="26.5" font-weight="bold" text-anchor="middle" fill="#000000" >-6</text>
<text transform="translate(1277.5,449.9) scale(1,1.05)" font-size="26.5" font-weight="bold" text-anchor="middle" fill="#000000" >-5</text>
<text transform="translate(1334,449.9) scale(1,1.05)" font-size="26.5" font-weight="bold" text-anchor="middle" fill="#000000" >-4</text>
<text x="1088" y="489.3" font-size="28.8" font-weight="bold" text-anchor="middle" fill="#000000" >Log[drug] (M)</text>
<text transform="translate(718.5,350.9) rotate(-90)" font-size="28.8" font-weight="bold" text-anchor="start">[<tspan font-size="22" dy="-12.4">3</tspan><tspan dy="12.4">H]</tspan>S-CIT binding</text>
<text transform="translate(753,344.6) rotate(-90)" font-size="28.8" font-weight="bold" text-anchor="start">(in % of control)</text>
<text transform="translate(680.6,35.3) scale(1,1.025)" font-size="46" font-weight="bold" text-anchor="start" fill="#000000" >b</text>
<line x1="854.5" y1="90" x2="854.5" y2="114" stroke="#000000" stroke-width="2.0" />
<line x1="845.75" y1="90" x2="863.25" y2="90" stroke="#000000" stroke-width="2.4" />
<line x1="845.75" y1="114" x2="863.25" y2="114" stroke="#000000" stroke-width="2.4" />
<line x1="1091.35" y1="331.8" x2="1091.35" y2="348.6" stroke="#000000" stroke-width="2.0" />
<line x1="1082.6" y1="331.8" x2="1100.1" y2="331.8" stroke="#000000" stroke-width="2.4" />
<line x1="1082.6" y1="348.6" x2="1100.1" y2="348.6" stroke="#000000" stroke-width="2.4" />
<path d="M854.5 93.25L863.25 102L854.5 110.75L845.75 102Z" fill="#000000"/>
<path d="M995.3 107.25L1004.05 116L995.3 124.75L986.55 116Z" fill="#000000"/>
<path d="M1023.55 106.25L1032.3 115L1023.55 123.75L1014.8 115Z" fill="#000000"/>
<path d="M1051.8 245.55L1060.55 254.3L1051.8 263.05L1043.05 254.3Z" fill="#000000"/>
<path d="M1068.75 303.85L1077.5 312.6L1068.75 321.35L1060 312.6Z" fill="#000000"/>
<path d="M1091.35 331.45L1100.1 340.2L1091.35 348.95L1082.6 340.2Z" fill="#000000"/>
<path d="M1108.3 334.95L1117.05 343.7L1108.3 352.45L1099.55 343.7Z" fill="#000000"/>
<path d="M1164.8 351.35L1173.55 360.1L1164.8 368.85L1156.05 360.1Z" fill="#000000"/>
<path d="M1221.3 375.45L1230.05 384.2L1221.3 392.95L1212.55 384.2Z" fill="#000000"/>
<line x1="854.5" y1="96.39" x2="878.5" y2="96.39" stroke="#000000" stroke-width="2.6" />
<polyline points="905,96.39 906,96.39 907,96.39 908,96.39 909,96.39 910,96.39 911.01,96.4 912.01,96.4 913.01,96.4 914.01,96.4 915.01,96.4 916.01,96.4 917.01,96.4 918.01,96.4 919.01,96.4 920.01,96.4 921.02,96.4 922.02,96.4 923.02,96.4 924.02,96.4 925.02,96.4 926.02,96.4 927.02,96.4 928.02,96.41 929.02,96.41 930.02,96.41 931.02,96.41 932.03,96.41 933.03,96.41 934.03,96.41 935.03,96.42 936.03,96.42 937.03,96.42 938.03,96.42 939.03,96.43 940.03,96.43 941.03,96.43 942.04,96.43 943.04,96.44 944.04,96.44 945.04,96.45 946.04,96.45 947.04,96.46 948.04,96.46 949.04,96.47 950.04,96.47 951.04,96.48 952.04,96.49 953.05,96.5 954.05,96.51 955.05,96.52 956.05,96.53 957.05,96.54 958.05,96.55 959.05,96.56 960.05,96.58 961.05,96.6 962.05,96.61 963.06,96.63 964.06,96.65 965.06,96.67 966.06,96.7 967.06,96.72 968.06,96.75 969.06,96.78 970.06,96.82 971.06,96.85 972.06,96.89 973.06,96.93 974.07,96.98 975.07,97.03 976.07,97.08 977.07,97.14 978.07,97.2 979.07,97.27 980.07,97.35 981.07,97.43 982.07,97.52 983.07,97.61 984.08,97.72 985.08,97.83 986.08,97.95 987.08,98.08 988.08,98.22 989.08,98.38 990.08,98.55 991.08,98.73 992.08,98.92 993.08,99.14 994.08,99.37 995.09,99.62 996.09,99.89 997.09,100.18 998.09,100.5 999.09,100.84 1000.09,101.21 1001.09,101.61 1002.09,102.05 1003.09,102.52 1004.09,103.03 1005.09,103.57 1006.1,104.17 1007.1,104.81 1008.1,105.5 1009.1,106.24 1010.1,107.05 1011.1,107.91 1012.1,108.84 1013.1,109.85 1014.1,110.93 1015.1,112.09 1016.11,113.34 1017.11,114.68 1018.11,116.12 1019.11,117.66 1020.11,119.31 1021.11,121.08 1022.11,122.97 1023.11,124.98 1024.11,127.13 1025.11,129.42 1026.11,131.85 1027.12,134.42 1028.12,137.16 1029.12,140.05 1030.12,143.1 1031.12,146.32 1032.12,149.71 1033.12,153.27 1034.12,156.99 1035.12,160.88 1036.12,164.94 1037.13,169.16 1038.13,173.54 1039.13,178.07 1040.13,182.74 1041.13,187.55 1042.13,192.48 1043.13,197.51 1044.13,202.65 1045.13,207.87 1046.13,213.15 1047.13,218.48 1048.14,223.85 1049.14,229.23 1050.14,234.61 1051.14,239.97 1052.14,245.29 1053.14,250.55 1054.14,255.75 1055.14,260.85 1056.14,265.86 1057.14,270.75 1058.15,275.51 1059.15,280.14 1060.15,284.62 1061.15,288.94 1062.15,293.11 1063.15,297.12 1064.15,300.96 1065.15,304.63 1066.15,308.13 1067.15,311.46 1068.15,314.63 1069.16,317.63 1070.16,320.47 1071.16,323.15 1072.16,325.68 1073.16,328.07 1074.16,330.31 1075.16,332.41 1076.16,334.38 1077.16,336.23 1078.16,337.96 1079.17,339.57 1080.17,341.08 1081.17,342.49 1082.17,343.8 1083.17,345.02 1084.17,346.15 1085.17,347.21 1086.17,348.19 1087.17,349.1 1088.17,349.95 1089.17,350.73 1090.18,351.46 1091.18,352.13 1092.18,352.76 1093.18,353.33 1094.18,353.87 1095.18,354.36 1096.18,354.82 1097.18,355.25 1098.18,355.64 1099.18,356 1100.19,356.33 1101.19,356.64 1102.19,356.93 1103.19,357.19 1104.19,357.44 1105.19,357.66 1106.19,357.87 1107.19,358.06 1108.19,358.24 1109.19,358.4 1110.19,358.55 1111.2,358.69 1112.2,358.82 1113.2,358.94 1114.2,359.05 1115.2,359.15 1116.2,359.24 1117.2,359.32 1118.2,359.4 1119.2,359.48 1120.2,359.54 1121.21,359.6 1122.21,359.66 1123.21,359.71 1124.21,359.76 1125.21,359.81 1126.21,359.85 1127.21,359.89 1128.21,359.92 1129.21,359.95 1130.21,359.98 1131.21,360.01 1132.22,360.04 1133.22,360.06 1134.22,360.08 1135.22,360.1 1136.22,360.12 1137.22,360.14 1138.22,360.15 1139.22,360.17 1140.22,360.18 1141.22,360.19 1142.22,360.2 1143.23,360.21 1144.23,360.22 1145.23,360.23 1146.23,360.24 1147.23,360.25 1148.23,360.25 1149.23,360.26 1150.23,360.27 1151.23,360.27 1152.23,360.28 1153.24,360.28 1154.24,360.29 1155.24,360.29 1156.24,360.29 1157.24,360.3 1158.24,360.3 1159.24,360.3 1160.24,360.3 1161.24,360.31 1162.24,360.31 1163.24,360.31 1164.25,360.31 1165.25,360.31 1166.25,360.32 1167.25,360.32 1168.25,360.32 1169.25,360.32 1170.25,360.32 1171.25,360.32 1172.25,360.32 1173.25,360.32 1174.26,360.33 1175.26,360.33 1176.26,360.33 1177.26,360.33 1178.26,360.33 1179.26,360.33 1180.26,360.33 1181.26,360.33 1182.26,360.33 1183.26,360.33 1184.26,360.33 1185.27,360.33 1186.27,360.33 1187.27,360.33 1188.27,360.33 1189.27,360.33 1190.27,360.33 1191.27,360.33 1192.27,360.33 1193.27,360.33 1194.27,360.33 1195.28,360.33 1196.28,360.33 1197.28,360.33 1198.28,360.33 1199.28,360.33 1200.28,360.33 1201.28,360.33 1202.28,360.33 1203.28,360.33 1204.28,360.33 1205.28,360.33 1206.29,360.33 1207.29,360.33 1208.29,360.33 1209.29,360.33 1210.29,360.33 1211.29,360.33 1212.29,360.33 1213.29,360.33 1214.29,360.33 1215.29,360.33 1216.3,360.33 1217.3,360.33 1218.3,360.33 1219.3,360.33 1220.3,360.33 1221.3,360.33" fill="none" stroke="#000000" stroke-width="2.6" stroke-linejoin="round"/>
<line x1="854.5" y1="80.4" x2="854.5" y2="103.4" stroke="#93651F" stroke-width="2.0" />
<line x1="845.75" y1="80.4" x2="863.25" y2="80.4" stroke="#93651F" stroke-width="2.4" />
<line x1="845.75" y1="103.4" x2="863.25" y2="103.4" stroke="#93651F" stroke-width="2.4" />
<line x1="967.05" y1="76.8" x2="967.05" y2="116" stroke="#93651F" stroke-width="2.0" />
<line x1="958.3" y1="76.8" x2="975.8" y2="76.8" stroke="#93651F" stroke-width="2.4" />
<line x1="958.3" y1="116" x2="975.8" y2="116" stroke="#93651F" stroke-width="2.4" />
<line x1="995.3" y1="93.7" x2="995.3" y2="130.3" stroke="#93651F" stroke-width="2.0" />
<line x1="986.55" y1="93.7" x2="1004.05" y2="93.7" stroke="#93651F" stroke-width="2.4" />
<line x1="986.55" y1="130.3" x2="1004.05" y2="130.3" stroke="#93651F" stroke-width="2.4" />
<line x1="1023.55" y1="107.2" x2="1023.55" y2="134.6" stroke="#93651F" stroke-width="2.0" />
<line x1="1014.8" y1="107.2" x2="1032.3" y2="107.2" stroke="#93651F" stroke-width="2.4" />
<line x1="1014.8" y1="134.6" x2="1032.3" y2="134.6" stroke="#93651F" stroke-width="2.4" />
<line x1="1051.8" y1="151.3" x2="1051.8" y2="168.3" stroke="#93651F" stroke-width="2.0" />
<line x1="1043.05" y1="151.3" x2="1060.55" y2="151.3" stroke="#93651F" stroke-width="2.4" />
<line x1="1043.05" y1="168.3" x2="1060.55" y2="168.3" stroke="#93651F" stroke-width="2.4" />
<line x1="1080.05" y1="202" x2="1080.05" y2="220" stroke="#93651F" stroke-width="2.0" />
<line x1="1071.3" y1="202" x2="1088.8" y2="202" stroke="#93651F" stroke-width="2.4" />
<line x1="1071.3" y1="220" x2="1088.8" y2="220" stroke="#93651F" stroke-width="2.4" />
<path d="M854.5 83.15L863.25 91.9L854.5 100.65L845.75 91.9Z" fill="#93651F"/>
<path d="M938.8 116.85L947.55 125.6L938.8 134.35L930.05 125.6Z" fill="#93651F"/>
<path d="M967.05 87.65L975.8 96.4L967.05 105.15L958.3 96.4Z" fill="#93651F"/>
<path d="M995.3 103.25L1004.05 112L995.3 120.75L986.55 112Z" fill="#93651F"/>
<path d="M1023.55 112.15L1032.3 120.9L1023.55 129.65L1014.8 120.9Z" fill="#93651F"/>
<path d="M1051.8 151.05L1060.55 159.8L1051.8 168.55L1043.05 159.8Z" fill="#93651F"/>
<path d="M1080.05 202.25L1088.8 211L1080.05 219.75L1071.3 211Z" fill="#93651F"/>
<path d="M1108.3 266.65L1117.05 275.4L1108.3 284.15L1099.55 275.4Z" fill="#93651F"/>
<path d="M1136.55 310.45L1145.3 319.2L1136.55 327.95L1127.8 319.2Z" fill="#93651F"/>
<path d="M1164.8 330.35L1173.55 339.1L1164.8 347.85L1156.05 339.1Z" fill="#93651F"/>
<path d="M1221.3 360.15L1230.05 368.9L1221.3 377.65L1212.55 368.9Z" fill="#93651F"/>
<path d="M1277.8 385.45L1286.55 394.2L1277.8 402.95L1269.05 394.2Z" fill="#93651F"/>
<line x1="854.5" y1="101.71" x2="878.5" y2="101.71" stroke="#93651F" stroke-width="2.6" />
<polyline points="905,102.66 906,102.68 907,102.7 908.01,102.72 909.01,102.74 910.01,102.77 911.01,102.79 912.02,102.82 913.02,102.84 914.02,102.87 915.02,102.9 916.02,102.93 917.03,102.96 918.03,102.99 919.03,103.02 920.03,103.05 921.03,103.09 922.04,103.12 923.04,103.16 924.04,103.19 925.04,103.23 926.05,103.27 927.05,103.31 928.05,103.36 929.05,103.4 930.05,103.45 931.06,103.49 932.06,103.54 933.06,103.59 934.06,103.64 935.06,103.7 936.07,103.75 937.07,103.81 938.07,103.87 939.07,103.93 940.08,103.99 941.08,104.05 942.08,104.12 943.08,104.19 944.08,104.26 945.09,104.33 946.09,104.41 947.09,104.49 948.09,104.57 949.09,104.65 950.1,104.74 951.1,104.83 952.1,104.92 953.1,105.02 954.11,105.11 955.11,105.22 956.11,105.32 957.11,105.43 958.11,105.54 959.12,105.65 960.12,105.77 961.12,105.9 962.12,106.02 963.12,106.15 964.13,106.29 965.13,106.43 966.13,106.57 967.13,106.72 968.14,106.87 969.14,107.03 970.14,107.19 971.14,107.36 972.14,107.54 973.15,107.71 974.15,107.9 975.15,108.09 976.15,108.29 977.15,108.49 978.16,108.7 979.16,108.92 980.16,109.14 981.16,109.37 982.17,109.61 983.17,109.85 984.17,110.1 985.17,110.36 986.17,110.63 987.18,110.91 988.18,111.19 989.18,111.49 990.18,111.79 991.18,112.1 992.19,112.42 993.19,112.75 994.19,113.1 995.19,113.45 996.2,113.81 997.2,114.19 998.2,114.57 999.2,114.97 1000.2,115.38 1001.21,115.8 1002.21,116.23 1003.21,116.68 1004.21,117.14 1005.22,117.61 1006.22,118.1 1007.22,118.6 1008.22,119.12 1009.22,119.65 1010.23,120.19 1011.23,120.75 1012.23,121.33 1013.23,121.93 1014.23,122.54 1015.24,123.17 1016.24,123.81 1017.24,124.48 1018.24,125.16 1019.25,125.86 1020.25,126.58 1021.25,127.32 1022.25,128.08 1023.25,128.86 1024.26,129.67 1025.26,130.49 1026.26,131.33 1027.26,132.2 1028.26,133.09 1029.27,134 1030.27,134.93 1031.27,135.89 1032.27,136.87 1033.28,137.88 1034.28,138.91 1035.28,139.96 1036.28,141.04 1037.28,142.15 1038.29,143.28 1039.29,144.44 1040.29,145.62 1041.29,146.83 1042.29,148.07 1043.3,149.34 1044.3,150.63 1045.3,151.95 1046.3,153.3 1047.31,154.67 1048.31,156.08 1049.31,157.51 1050.31,158.97 1051.31,160.46 1052.32,161.97 1053.32,163.52 1054.32,165.09 1055.32,166.69 1056.32,168.32 1057.33,169.97 1058.33,171.66 1059.33,173.37 1060.33,175.1 1061.34,176.87 1062.34,178.66 1063.34,180.47 1064.34,182.32 1065.34,184.18 1066.35,186.07 1067.35,187.99 1068.35,189.93 1069.35,191.89 1070.35,193.88 1071.36,195.88 1072.36,197.91 1073.36,199.95 1074.36,202.02 1075.37,204.1 1076.37,206.2 1077.37,208.32 1078.37,210.45 1079.37,212.6 1080.38,214.76 1081.38,216.94 1082.38,219.12 1083.38,221.32 1084.38,223.52 1085.39,225.74 1086.39,227.96 1087.39,230.18 1088.39,232.41 1089.4,234.65 1090.4,236.88 1091.4,239.12 1092.4,241.36 1093.4,243.59 1094.41,245.83 1095.41,248.06 1096.41,250.28 1097.41,252.5 1098.42,254.72 1099.42,256.92 1100.42,259.11 1101.42,261.3 1102.42,263.47 1103.43,265.63 1104.43,267.78 1105.43,269.91 1106.43,272.02 1107.43,274.12 1108.44,276.21 1109.44,278.27 1110.44,280.31 1111.44,282.34 1112.45,284.34 1113.45,286.32 1114.45,288.28 1115.45,290.22 1116.45,292.13 1117.46,294.02 1118.46,295.89 1119.46,297.73 1120.46,299.54 1121.46,301.33 1122.47,303.09 1123.47,304.82 1124.47,306.53 1125.47,308.21 1126.48,309.86 1127.48,311.49 1128.48,313.09 1129.48,314.66 1130.48,316.2 1131.49,317.71 1132.49,319.2 1133.49,320.65 1134.49,322.08 1135.49,323.48 1136.5,324.85 1137.5,326.2 1138.5,327.52 1139.5,328.81 1140.51,330.07 1141.51,331.3 1142.51,332.51 1143.51,333.69 1144.51,334.85 1145.52,335.98 1146.52,337.08 1147.52,338.16 1148.52,339.21 1149.52,340.24 1150.53,341.25 1151.53,342.22 1152.53,343.18 1153.53,344.11 1154.54,345.02 1155.54,345.91 1156.54,346.77 1157.54,347.61 1158.54,348.43 1159.55,349.23 1160.55,350.01 1161.55,350.77 1162.55,351.51 1163.55,352.23 1164.56,352.93 1165.56,353.61 1166.56,354.27 1167.56,354.91 1168.57,355.54 1169.57,356.15 1170.57,356.74 1171.57,357.32 1172.57,357.88 1173.58,358.43 1174.58,358.95 1175.58,359.47 1176.58,359.97 1177.58,360.45 1178.59,360.93 1179.59,361.39 1180.59,361.83 1181.59,362.26 1182.6,362.68 1183.6,363.09 1184.6,363.49 1185.6,363.87 1186.6,364.24 1187.61,364.6 1188.61,364.96 1189.61,365.3 1190.61,365.63 1191.62,365.95 1192.62,366.26 1193.62,366.56 1194.62,366.85 1195.62,367.14 1196.63,367.41 1197.63,367.68 1198.63,367.94 1199.63,368.19 1200.63,368.44 1201.64,368.67 1202.64,368.9 1203.64,369.12 1204.64,369.34 1205.65,369.55 1206.65,369.75 1207.65,369.95 1208.65,370.14 1209.65,370.32 1210.66,370.5 1211.66,370.67 1212.66,370.84 1213.66,371 1214.66,371.16 1215.67,371.31 1216.67,371.46 1217.67,371.6 1218.67,371.74 1219.68,371.88 1220.68,372.01 1221.68,372.13 1222.68,372.26 1223.68,372.37 1224.69,372.49 1225.69,372.6 1226.69,372.71 1227.69,372.81 1228.69,372.91 1229.7,373.01 1230.7,373.11 1231.7,373.2 1232.7,373.29 1233.71,373.37 1234.71,373.46 1235.71,373.54 1236.71,373.61 1237.71,373.69 1238.72,373.76 1239.72,373.83 1240.72,373.9 1241.72,373.97 1242.72,374.03 1243.73,374.1 1244.73,374.16 1245.73,374.22 1246.73,374.27 1247.74,374.33 1248.74,374.38 1249.74,374.43 1250.74,374.48 1251.74,374.53 1252.75,374.58 1253.75,374.62 1254.75,374.67 1255.75,374.71 1256.75,374.75 1257.76,374.79 1258.76,374.83 1259.76,374.86 1260.76,374.9 1261.77,374.94 1262.77,374.97 1263.77,375 1264.77,375.03 1265.77,375.06 1266.78,375.09 1267.78,375.12 1268.78,375.15 1269.78,375.18 1270.78,375.2 1271.79,375.23 1272.79,375.25 1273.79,375.28 1274.79,375.3 1275.8,375.32 1276.8,375.34 1277.8,375.36" fill="none" stroke="#93651F" stroke-width="2.6" stroke-linejoin="round"/>
<path d="M868.1 324.65L877.05 333.6L868.1 342.55L859.15 333.6Z" fill="#93651F"/>
<text transform="translate(906.3,343.2) scale(1,1.02)" font-size="28.9" font-weight="normal" text-anchor="start" fill="#000000" >S-CIT</text>
<path d="M868.1 364.45L877.05 373.4L868.1 382.35L859.15 373.4Z" fill="#000000"/>
<text transform="translate(906.3,383) scale(1,1.02)" font-size="28.9" font-weight="normal" text-anchor="start" fill="#000000" >VLZ</text>
<line x1="140.8" y1="591" x2="140.8" y2="935.6" stroke="#000000" stroke-width="2.6" />
<line x1="126.4" y1="860.9" x2="140.8" y2="860.9" stroke="#000000" stroke-width="2.6" />
<line x1="126.4" y1="786.2" x2="140.8" y2="786.2" stroke="#000000" stroke-width="2.6" />
<line x1="126.4" y1="711.5" x2="140.8" y2="711.5" stroke="#000000" stroke-width="2.6" />
<line x1="126.4" y1="636.8" x2="140.8" y2="636.8" stroke="#000000" stroke-width="2.6" />
<line x1="127" y1="935.6" x2="190.2" y2="935.6" stroke="#000000" stroke-width="2.6" />
<line x1="214" y1="935.6" x2="656.8" y2="935.6" stroke="#000000" stroke-width="2.6" />
<line x1="164.2" y1="935.6" x2="164.2" y2="949.2" stroke="#000000" stroke-width="2.6" />
<line x1="247.8" y1="935.6" x2="247.8" y2="949.2" stroke="#000000" stroke-width="2.6" />
<line x1="303.01" y1="935.6" x2="303.01" y2="949.2" stroke="#000000" stroke-width="2.6" />
<line x1="358.22" y1="935.6" x2="358.22" y2="949.2" stroke="#000000" stroke-width="2.6" />
<line x1="413.43" y1="935.6" x2="413.43" y2="949.2" stroke="#000000" stroke-width="2.6" />
<line x1="468.64" y1="935.6" x2="468.64" y2="949.2" stroke="#000000" stroke-width="2.6" />
<line x1="523.85" y1="935.6" x2="523.85" y2="949.2" stroke="#000000" stroke-width="2.6" />
<line x1="579.06" y1="935.6" x2="579.06" y2="949.2" stroke="#000000" stroke-width="2.6" />
<line x1="634.27" y1="935.6" x2="634.27" y2="949.2" stroke="#000000" stroke-width="2.6" />
<line x1="181.9" y1="943.8" x2="198.3" y2="927.2" stroke="#000000" stroke-width="2.6" />
<line x1="205.9" y1="943.8" x2="222.8" y2="927.2" stroke="#000000" stroke-width="2.6" />
<text transform="translate(123.4,945.2) scale(1,1.05)" font-size="26.5" font-weight="bold" text-anchor="end" fill="#000000" >0</text>
<text transform="translate(123.4,870.5) scale(1,1.05)" font-size="26.5" font-weight="bold" text-anchor="end" fill="#000000" >25</text>
<text transform="translate(123.4,795.8) scale(1,1.05)" font-size="26.5" font-weight="bold" text-anchor="end" fill="#000000" >50</text>
<text transform="translate(123.4,721.1) scale(1,1.05)" font-size="26.5" font-weight="bold" text-anchor="end" fill="#000000" >75</text>
<text transform="translate(123.4,646.4) scale(1,1.05)" font-size="26.5" font-weight="bold" text-anchor="end" fill="#000000" >100</text>
<text transform="translate(164.2,973.9) scale(1,1.05)" font-size="26.5" font-weight="bold" text-anchor="middle" fill="#000000" >ctrl</text>
<text transform="translate(247.5,978.3) scale(1,1.05)" font-size="26.5" font-weight="bold" text-anchor="middle" fill="#000000" >-11</text>
<text transform="translate(302.71,978.3) scale(1,1.05)" font-size="26.5" font-weight="bold" text-anchor="middle" fill="#000000" >-10</text>
<text transform="translate(357.92,978.3) scale(1,1.05)" font-size="26.5" font-weight="bold" text-anchor="middle" fill="#000000" >-9</text>
<text transform="translate(413.13,978.3) scale(1,1.05)" font-size="26.5" font-weight="bold" text-anchor="middle" fill="#000000" >-8</text>
<text transform="translate(468.34,978.3) scale(1,1.05)" font-size="26.5" font-weight="bold" text-anchor="middle" fill="#000000" >-7</text>
<text transform="translate(523.55,978.3) scale(1,1.05)" font-size="26.5" font-weight="bold" text-anchor="middle" fill="#000000" >-6</text>
<text transform="translate(578.76,978.3) scale(1,1.05)" font-size="26.5" font-weight="bold" text-anchor="middle" fill="#000000" >-5</text>
<text transform="translate(633.97,978.3) scale(1,1.05)" font-size="26.5" font-weight="bold" text-anchor="middle" fill="#000000" >-4</text>
<text x="399" y="1018.4" font-size="28.8" font-weight="bold" text-anchor="middle" fill="#000000" >Log[S-CIT] (M)</text>
<text transform="translate(28.8,872) rotate(-90)" font-size="28.8" font-weight="bold" text-anchor="start">[<tspan font-size="22" dy="-12.4">3</tspan><tspan dy="12.4">H]</tspan>5-HT uptake</text>
<text transform="translate(63.4,875.5) rotate(-90)" font-size="28.8" font-weight="bold" text-anchor="start">(in % of control)</text>
<text transform="translate(31.5,565.3) scale(1,1.025)" font-size="46" font-weight="bold" text-anchor="start" fill="#000000" >c</text>
<polyline points="247.8,638.44 248.8,638.5 249.8,638.56 250.8,638.62 251.8,638.68 252.8,638.75 253.8,638.82 254.81,638.89 255.81,638.96 256.81,639.04 257.81,639.12 258.81,639.2 259.81,639.28 260.81,639.37 261.81,639.46 262.81,639.55 263.81,639.65 264.81,639.75 265.81,639.85 266.81,639.96 267.82,640.07 268.82,640.18 269.82,640.3 270.82,640.42 271.82,640.54 272.82,640.67 273.82,640.81 274.82,640.95 275.82,641.09 276.82,641.24 277.82,641.4 278.82,641.56 279.83,641.72 280.83,641.89 281.83,642.07 282.83,642.25 283.83,642.44 284.83,642.63 285.83,642.83 286.83,643.04 287.83,643.26 288.83,643.48 289.83,643.71 290.83,643.95 291.83,644.19 292.84,644.45 293.84,644.71 294.84,644.98 295.84,645.26 296.84,645.55 297.84,645.85 298.84,646.16 299.84,646.48 300.84,646.81 301.84,647.15 302.84,647.5 303.84,647.86 304.84,648.24 305.85,648.63 306.85,649.03 307.85,649.44 308.85,649.87 309.85,650.31 310.85,650.76 311.85,651.23 312.85,651.71 313.85,652.21 314.85,652.72 315.85,653.25 316.85,653.8 317.85,654.36 318.86,654.95 319.86,655.55 320.86,656.16 321.86,656.8 322.86,657.46 323.86,658.13 324.86,658.83 325.86,659.55 326.86,660.29 327.86,661.05 328.86,661.83 329.86,662.64 330.87,663.47 331.87,664.32 332.87,665.2 333.87,666.1 334.87,667.03 335.87,667.98 336.87,668.96 337.87,669.97 338.87,671.01 339.87,672.07 340.87,673.16 341.87,674.28 342.87,675.43 343.88,676.61 344.88,677.82 345.88,679.07 346.88,680.34 347.88,681.64 348.88,682.98 349.88,684.35 350.88,685.75 351.88,687.18 352.88,688.65 353.88,690.15 354.88,691.69 355.88,693.26 356.89,694.86 357.89,696.5 358.89,698.17 359.89,699.88 360.89,701.62 361.89,703.39 362.89,705.2 363.89,707.05 364.89,708.93 365.89,710.84 366.89,712.79 367.89,714.77 368.9,716.78 369.9,718.82 370.9,720.9 371.9,723.01 372.9,725.15 373.9,727.32 374.9,729.52 375.9,731.75 376.9,734.01 377.9,736.3 378.9,738.61 379.9,740.95 380.9,743.31 381.91,745.7 382.91,748.1 383.91,750.53 384.91,752.98 385.91,755.45 386.91,757.94 387.91,760.44 388.91,762.96 389.91,765.49 390.91,768.04 391.91,770.59 392.91,773.16 393.91,775.73 394.92,778.31 395.92,780.89 396.92,783.47 397.92,786.06 398.92,788.65 399.92,791.24 400.92,793.82 401.92,796.4 402.92,798.97 403.92,801.53 404.92,804.09 405.92,806.64 406.92,809.17 407.93,811.69 408.93,814.19 409.93,816.68 410.93,819.15 411.93,821.61 412.93,824.04 413.93,826.45 414.93,828.84 415.93,831.2 416.93,833.54 417.93,835.86 418.93,838.15 419.94,840.41 420.94,842.64 421.94,844.84 422.94,847.02 423.94,849.16 424.94,851.28 425.94,853.36 426.94,855.4 427.94,857.42 428.94,859.4 429.94,861.35 430.94,863.27 431.94,865.15 432.95,867 433.95,868.81 434.95,870.59 435.95,872.34 436.95,874.05 437.95,875.72 438.95,877.37 439.95,878.97 440.95,880.55 441.95,882.08 442.95,883.59 443.95,885.06 444.95,886.5 445.96,887.9 446.96,889.28 447.96,890.62 448.96,891.92 449.96,893.2 450.96,894.45 451.96,895.66 452.96,896.84 453.96,898 454.96,899.12 455.96,900.22 456.96,901.28 457.96,902.32 458.97,903.33 459.97,904.31 460.97,905.27 461.97,906.2 462.97,907.11 463.97,907.99 464.97,908.84 465.97,909.68 466.97,910.49 467.97,911.27 468.97,912.03 469.97,912.78 470.98,913.49 471.98,914.19 472.98,914.87 473.98,915.53 474.98,916.17 475.98,916.79 476.98,917.39 477.98,917.97 478.98,918.54 479.98,919.09 480.98,919.62 481.98,920.14 482.98,920.64 483.99,921.12 484.99,921.59 485.99,922.05 486.99,922.49 487.99,922.92 488.99,923.33 489.99,923.73 490.99,924.12 491.99,924.5 492.99,924.86 493.99,925.21 494.99,925.56 495.99,925.89 497,926.21 498,926.52 499,926.82 500,927.11 501,927.39 502,927.66 503,927.92 504,928.18 505,928.43 506,928.66 507,928.9 508,929.12 509.01,929.33 510.01,929.54 511.01,929.75 512.01,929.94 513.01,930.13 514.01,930.31 515.01,930.49 516.01,930.66 517.01,930.83 518.01,930.99 519.01,931.14 520.01,931.29 521.01,931.44 522.02,931.58 523.02,931.71 524.02,931.84 525.02,931.97 526.02,932.09 527.02,932.21 528.02,932.32 529.02,932.43 530.02,932.54 531.02,932.64 532.02,932.74 533.02,932.84 534.02,932.93 535.03,933.02 536.03,933.11 537.03,933.19 538.03,933.27 539.03,933.35 540.03,933.43 541.03,933.5 542.03,933.57 543.03,933.64 544.03,933.71 545.03,933.77 546.03,933.83 547.03,933.89 548.04,933.95 549.04,934.01 550.04,934.06 551.04,934.11 552.04,934.16 553.04,934.21 554.04,934.26 555.04,934.31 556.04,934.35 557.04,934.39 558.04,934.43 559.04,934.47 560.05,934.51 561.05,934.55 562.05,934.58 563.05,934.62 564.05,934.65 565.05,934.68 566.05,934.71 567.05,934.74 568.05,934.77 569.05,934.8 570.05,934.83 571.05,934.85 572.05,934.88 573.06,934.9 574.06,934.93 575.06,934.95 576.06,934.97 577.06,934.99 578.06,935.01 579.06,935.03" fill="none" stroke="#93651F" stroke-width="2.2" stroke-linejoin="round" stroke-dasharray="5.3,3.2"/>
<line x1="303.01" y1="621.3" x2="303.01" y2="670.7" stroke="#30469E" stroke-width="2.0" />
<line x1="295.91" y1="621.3" x2="310.11" y2="621.3" stroke="#30469E" stroke-width="2.4" />
<line x1="295.91" y1="670.7" x2="310.11" y2="670.7" stroke="#30469E" stroke-width="2.4" />
<line x1="413.43" y1="628" x2="413.43" y2="652" stroke="#30469E" stroke-width="2.0" />
<line x1="406.33" y1="628" x2="420.53" y2="628" stroke="#30469E" stroke-width="2.4" />
<line x1="406.33" y1="652" x2="420.53" y2="652" stroke="#30469E" stroke-width="2.4" />
<line x1="441.04" y1="648" x2="441.04" y2="656" stroke="#30469E" stroke-width="2.0" />
<line x1="433.94" y1="648" x2="448.14" y2="648" stroke="#30469E" stroke-width="2.4" />
<line x1="433.94" y1="656" x2="448.14" y2="656" stroke="#30469E" stroke-width="2.4" />
<line x1="496.25" y1="699" x2="496.25" y2="721" stroke="#30469E" stroke-width="2.0" />
<line x1="489.14" y1="699" x2="503.35" y2="699" stroke="#30469E" stroke-width="2.4" />
<line x1="489.14" y1="721" x2="503.35" y2="721" stroke="#30469E" stroke-width="2.4" />
<line x1="523.85" y1="765.6" x2="523.85" y2="798.4" stroke="#30469E" stroke-width="2.0" />
<line x1="516.75" y1="765.6" x2="530.95" y2="765.6" stroke="#30469E" stroke-width="2.4" />
<line x1="516.75" y1="798.4" x2="530.95" y2="798.4" stroke="#30469E" stroke-width="2.4" />
<line x1="551.46" y1="839.7" x2="551.46" y2="857.7" stroke="#30469E" stroke-width="2.0" />
<line x1="544.36" y1="839.7" x2="558.56" y2="839.7" stroke="#30469E" stroke-width="2.4" />
<line x1="544.36" y1="857.7" x2="558.56" y2="857.7" stroke="#30469E" stroke-width="2.4" />
<path d="M157.1 641.9L171.3 641.9L164.2 627.7Z" fill="#30469E"/>
<path d="M295.91 653.1L310.11 653.1L303.01 638.9Z" fill="#30469E"/>
<path d="M351.12 645.1L365.32 645.1L358.22 630.9Z" fill="#30469E"/>
<path d="M378.73 647.1L392.93 647.1L385.83 632.9Z" fill="#30469E"/>
<path d="M406.33 647.1L420.53 647.1L413.43 632.9Z" fill="#30469E"/>
<path d="M433.94 659.1L448.14 659.1L441.04 644.9Z" fill="#30469E"/>
<path d="M461.54 685.4L475.74 685.4L468.64 671.2Z" fill="#30469E"/>
<path d="M489.14 717.1L503.35 717.1L496.25 702.9Z" fill="#30469E"/>
<path d="M516.75 789.1L530.95 789.1L523.85 774.9Z" fill="#30469E"/>
<path d="M544.36 855.8L558.56 855.8L551.46 841.6Z" fill="#30469E"/>
<path d="M571.96 907.1L586.16 907.1L579.06 892.9Z" fill="#30469E"/>
<path d="M627.17 941.1L641.37 941.1L634.27 926.9Z" fill="#30469E"/>
<line x1="303.01" y1="627.1" x2="303.01" y2="662.5" stroke="#088036" stroke-width="2.0" />
<line x1="295.81" y1="627.1" x2="310.21" y2="627.1" stroke="#088036" stroke-width="2.4" />
<line x1="295.81" y1="662.5" x2="310.21" y2="662.5" stroke="#088036" stroke-width="2.4" />
<line x1="413.43" y1="623.8" x2="413.43" y2="641.8" stroke="#088036" stroke-width="2.0" />
<line x1="406.23" y1="623.8" x2="420.63" y2="623.8" stroke="#088036" stroke-width="2.4" />
<line x1="406.23" y1="641.8" x2="420.63" y2="641.8" stroke="#088036" stroke-width="2.4" />
<line x1="441.04" y1="632.1" x2="441.04" y2="651.5" stroke="#088036" stroke-width="2.0" />
<line x1="433.84" y1="632.1" x2="448.24" y2="632.1" stroke="#088036" stroke-width="2.4" />
<line x1="433.84" y1="651.5" x2="448.24" y2="651.5" stroke="#088036" stroke-width="2.4" />
<line x1="468.64" y1="642.5" x2="468.64" y2="669.5" stroke="#088036" stroke-width="2.0" />
<line x1="461.44" y1="642.5" x2="475.84" y2="642.5" stroke="#088036" stroke-width="2.4" />
<line x1="461.44" y1="669.5" x2="475.84" y2="669.5" stroke="#088036" stroke-width="2.4" />
<line x1="496.25" y1="659.5" x2="496.25" y2="675.3" stroke="#088036" stroke-width="2.0" />
<line x1="489.05" y1="659.5" x2="503.44" y2="659.5" stroke="#088036" stroke-width="2.4" />
<line x1="489.05" y1="675.3" x2="503.44" y2="675.3" stroke="#088036" stroke-width="2.4" />
<line x1="523.85" y1="671.1" x2="523.85" y2="707.1" stroke="#088036" stroke-width="2.0" />
<line x1="516.65" y1="671.1" x2="531.05" y2="671.1" stroke="#088036" stroke-width="2.4" />
<line x1="516.65" y1="707.1" x2="531.05" y2="707.1" stroke="#088036" stroke-width="2.4" />
<line x1="551.46" y1="729.4" x2="551.46" y2="756.4" stroke="#088036" stroke-width="2.0" />
<line x1="544.25" y1="729.4" x2="558.66" y2="729.4" stroke="#088036" stroke-width="2.4" />
<line x1="544.25" y1="756.4" x2="558.66" y2="756.4" stroke="#088036" stroke-width="2.4" />
<circle cx="247.8" cy="635.7" r="7.2" fill="#088036"/>
<circle cx="303.01" cy="644.8" r="7.2" fill="#088036"/>
<circle cx="358.22" cy="627.4" r="7.2" fill="#088036"/>
<circle cx="385.83" cy="635.9" r="7.2" fill="#088036"/>
<circle cx="413.43" cy="632.8" r="7.2" fill="#088036"/>
<circle cx="441.04" cy="641.8" r="7.2" fill="#088036"/>
<circle cx="468.64" cy="656" r="7.2" fill="#088036"/>
<circle cx="496.25" cy="667.4" r="7.2" fill="#088036"/>
<circle cx="523.85" cy="689.1" r="7.2" fill="#088036"/>
<circle cx="551.46" cy="742.9" r="7.2" fill="#088036"/>
<circle cx="579.06" cy="833" r="7.2" fill="#088036"/>
<line x1="303.01" y1="639.3" x2="303.01" y2="651.3" stroke="#682887" stroke-width="2.0" />
<line x1="295.91" y1="639.3" x2="310.11" y2="639.3" stroke="#682887" stroke-width="2.4" />
<line x1="295.91" y1="651.3" x2="310.11" y2="651.3" stroke="#682887" stroke-width="2.4" />
<line x1="413.43" y1="709" x2="413.43" y2="725" stroke="#682887" stroke-width="2.0" />
<line x1="406.33" y1="709" x2="420.53" y2="709" stroke="#682887" stroke-width="2.4" />
<line x1="406.33" y1="725" x2="420.53" y2="725" stroke="#682887" stroke-width="2.4" />
<line x1="441.04" y1="763.2" x2="441.04" y2="786" stroke="#682887" stroke-width="2.0" />
<line x1="433.94" y1="763.2" x2="448.14" y2="763.2" stroke="#682887" stroke-width="2.4" />
<line x1="433.94" y1="786" x2="448.14" y2="786" stroke="#682887" stroke-width="2.4" />
<line x1="468.64" y1="836.2" x2="468.64" y2="852.2" stroke="#682887" stroke-width="2.0" />
<line x1="461.54" y1="836.2" x2="475.74" y2="836.2" stroke="#682887" stroke-width="2.4" />
<line x1="461.54" y1="852.2" x2="475.74" y2="852.2" stroke="#682887" stroke-width="2.4" />
<path d="M157.1 625.7L171.3 625.7L164.2 639.9Z" fill="#682887"/>
<path d="M240.7 628.9L254.9 628.9L247.8 643.1Z" fill="#682887"/>
<path d="M268.31 623.8L282.51 623.8L275.41 638Z" fill="#682887"/>
<path d="M295.91 638.2L310.11 638.2L303.01 652.4Z" fill="#682887"/>
<path d="M323.51 637.5L337.72 637.5L330.62 651.7Z" fill="#682887"/>
<path d="M351.12 637.9L365.32 637.9L358.22 652.1Z" fill="#682887"/>
<path d="M378.73 663.9L392.93 663.9L385.83 678.1Z" fill="#682887"/>
<path d="M406.33 709.9L420.53 709.9L413.43 724.1Z" fill="#682887"/>
<path d="M433.94 767.5L448.14 767.5L441.04 781.7Z" fill="#682887"/>
<path d="M461.54 837.1L475.74 837.1L468.64 851.3Z" fill="#682887"/>
<path d="M489.14 884.9L503.35 884.9L496.25 899.1Z" fill="#682887"/>
<path d="M516.75 914.9L530.95 914.9L523.85 929.1Z" fill="#682887"/>
<path d="M544.36 924.6L558.56 924.6L551.46 938.8Z" fill="#682887"/>
<path d="M571.96 927.8L586.16 927.8L579.06 942Z" fill="#682887"/>
<line x1="164.2" y1="637.1" x2="190.6" y2="637.1" stroke="#088036" stroke-width="2.6" />
<polyline points="214.3,637.7 215.3,637.7 216.3,637.7 217.31,637.7 218.31,637.7 219.31,637.7 220.31,637.7 221.31,637.7 222.32,637.7 223.32,637.7 224.32,637.7 225.32,637.7 226.33,637.7 227.33,637.7 228.33,637.7 229.33,637.7 230.33,637.7 231.34,637.7 232.34,637.7 233.34,637.7 234.34,637.7 235.34,637.7 236.35,637.7 237.35,637.7 238.35,637.7 239.35,637.7 240.35,637.7 241.36,637.7 242.36,637.7 243.36,637.7 244.36,637.7 245.36,637.7 246.37,637.7 247.37,637.7 248.37,637.7 249.37,637.7 250.38,637.7 251.38,637.7 252.38,637.7 253.38,637.7 254.38,637.7 255.39,637.7 256.39,637.7 257.39,637.7 258.39,637.7 259.39,637.7 260.4,637.7 261.4,637.7 262.4,637.7 263.4,637.7 264.4,637.7 265.41,637.7 266.41,637.7 267.41,637.7 268.41,637.7 269.41,637.7 270.42,637.7 271.42,637.7 272.42,637.7 273.42,637.7 274.43,637.7 275.43,637.7 276.43,637.7 277.43,637.7 278.43,637.7 279.44,637.7 280.44,637.7 281.44,637.7 282.44,637.7 283.44,637.7 284.45,637.7 285.45,637.7 286.45,637.7 287.45,637.71 288.45,637.71 289.46,637.71 290.46,637.71 291.46,637.71 292.46,637.71 293.46,637.71 294.47,637.71 295.47,637.71 296.47,637.71 297.47,637.71 298.48,637.71 299.48,637.71 300.48,637.71 301.48,637.71 302.48,637.71 303.49,637.71 304.49,637.71 305.49,637.71 306.49,637.71 307.49,637.72 308.5,637.72 309.5,637.72 310.5,637.72 311.5,637.72 312.5,637.72 313.51,637.72 314.51,637.72 315.51,637.72 316.51,637.72 317.52,637.72 318.52,637.72 319.52,637.73 320.52,637.73 321.52,637.73 322.53,637.73 323.53,637.73 324.53,637.73 325.53,637.73 326.53,637.73 327.54,637.74 328.54,637.74 329.54,637.74 330.54,637.74 331.54,637.74 332.55,637.74 333.55,637.75 334.55,637.75 335.55,637.75 336.55,637.75 337.56,637.75 338.56,637.76 339.56,637.76 340.56,637.76 341.57,637.76 342.57,637.77 343.57,637.77 344.57,637.77 345.57,637.77 346.58,637.78 347.58,637.78 348.58,637.78 349.58,637.79 350.58,637.79 351.59,637.79 352.59,637.8 353.59,637.8 354.59,637.81 355.59,637.81 356.6,637.81 357.6,637.82 358.6,637.82 359.6,637.83 360.6,637.83 361.61,637.84 362.61,637.84 363.61,637.85 364.61,637.86 365.62,637.86 366.62,637.87 367.62,637.88 368.62,637.88 369.62,637.89 370.63,637.9 371.63,637.9 372.63,637.91 373.63,637.92 374.63,637.93 375.64,637.94 376.64,637.95 377.64,637.96 378.64,637.97 379.64,637.98 380.65,637.99 381.65,638 382.65,638.01 383.65,638.02 384.65,638.03 385.66,638.05 386.66,638.06 387.66,638.08 388.66,638.09 389.67,638.1 390.67,638.12 391.67,638.14 392.67,638.15 393.67,638.17 394.68,638.19 395.68,638.21 396.68,638.23 397.68,638.25 398.68,638.27 399.69,638.29 400.69,638.31 401.69,638.34 402.69,638.36 403.69,638.39 404.7,638.41 405.7,638.44 406.7,638.47 407.7,638.5 408.71,638.53 409.71,638.56 410.71,638.59 411.71,638.63 412.71,638.66 413.72,638.7 414.72,638.74 415.72,638.78 416.72,638.82 417.72,638.86 418.73,638.91 419.73,638.96 420.73,639 421.73,639.05 422.73,639.1 423.74,639.16 424.74,639.21 425.74,639.27 426.74,639.33 427.74,639.39 428.75,639.46 429.75,639.53 430.75,639.6 431.75,639.67 432.76,639.74 433.76,639.82 434.76,639.9 435.76,639.99 436.76,640.07 437.77,640.16 438.77,640.26 439.77,640.35 440.77,640.46 441.77,640.56 442.78,640.67 443.78,640.78 444.78,640.9 445.78,641.02 446.78,641.15 447.79,641.28 448.79,641.41 449.79,641.55 450.79,641.7 451.79,641.85 452.8,642.01 453.8,642.17 454.8,642.34 455.8,642.51 456.81,642.69 457.81,642.88 458.81,643.08 459.81,643.28 460.81,643.49 461.82,643.71 462.82,643.93 463.82,644.17 464.82,644.41 465.82,644.66 466.83,644.92 467.83,645.19 468.83,645.47 469.83,645.76 470.83,646.06 471.84,646.37 472.84,646.7 473.84,647.03 474.84,647.38 475.84,647.73 476.85,648.11 477.85,648.49 478.85,648.89 479.85,649.3 480.86,649.73 481.86,650.17 482.86,650.63 483.86,651.1 484.86,651.59 485.87,652.1 486.87,652.62 487.87,653.16 488.87,653.72 489.87,654.3 490.88,654.9 491.88,655.52 492.88,656.16 493.88,656.83 494.88,657.51 495.89,658.22 496.89,658.95 497.89,659.7 498.89,660.48 499.9,661.29 500.9,662.12 501.9,662.97 502.9,663.86 503.9,664.77 504.91,665.71 505.91,666.68 506.91,667.68 507.91,668.71 508.91,669.77 509.92,670.86 510.92,671.99 511.92,673.14 512.92,674.34 513.92,675.56 514.93,676.82 515.93,678.12 516.93,679.45 517.93,680.82 518.93,682.22 519.94,683.67 520.94,685.15 521.94,686.67 522.94,688.23 523.95,689.83 524.95,691.46 525.95,693.14 526.95,694.86 527.95,696.62 528.96,698.41 529.96,700.25 530.96,702.13 531.96,704.05 532.96,706.01 533.97,708.01 534.97,710.05 535.97,712.13 536.97,714.25 537.97,716.41 538.98,718.61 539.98,720.85 540.98,723.12 541.98,725.43 542.98,727.78 543.99,730.16 544.99,732.57 545.99,735.02 546.99,737.5 548,740.01 549,742.55 550,745.12 551,747.72 552,750.34 553.01,752.99 554.01,755.66 555.01,758.35 556.01,761.06 557.01,763.79 558.02,766.53 559.02,769.29 560.02,772.05 561.02,774.83 562.02,777.62 563.03,780.42 564.03,783.21 565.03,786.01 566.03,788.82 567.03,791.62 568.04,794.41 569.04,797.2 570.04,799.99 571.04,802.76 572.05,805.52 573.05,808.27 574.05,811.01 575.05,813.72 576.05,816.42 577.06,819.1 578.06,821.76 579.06,824.39" fill="none" stroke="#088036" stroke-width="2.6" stroke-linejoin="round"/>
<line x1="164.2" y1="637.1" x2="190.6" y2="637.1" stroke="#30469E" stroke-width="2.6" />
<polyline points="214.3,638 215.3,638 216.3,638 217.31,638 218.31,638 219.31,638 220.31,638 221.32,638 222.32,638 223.32,638 224.32,638 225.33,638 226.33,638 227.33,638 228.33,638 229.33,638 230.34,638 231.34,638 232.34,638 233.34,638 234.35,638 235.35,638 236.35,638 237.35,638 238.36,638 239.36,638 240.36,638 241.36,638 242.36,638 243.37,638 244.37,638 245.37,638 246.37,638 247.38,638 248.38,638 249.38,638 250.38,638 251.39,638 252.39,638.01 253.39,638.01 254.39,638.01 255.39,638.01 256.4,638.01 257.4,638.01 258.4,638.01 259.4,638.01 260.41,638.01 261.41,638.01 262.41,638.01 263.41,638.01 264.42,638.01 265.42,638.01 266.42,638.01 267.42,638.01 268.43,638.01 269.43,638.01 270.43,638.02 271.43,638.02 272.43,638.02 273.44,638.02 274.44,638.02 275.44,638.02 276.44,638.02 277.45,638.02 278.45,638.02 279.45,638.02 280.45,638.02 281.46,638.03 282.46,638.03 283.46,638.03 284.46,638.03 285.46,638.03 286.47,638.03 287.47,638.03 288.47,638.03 289.47,638.04 290.48,638.04 291.48,638.04 292.48,638.04 293.48,638.04 294.49,638.04 295.49,638.05 296.49,638.05 297.49,638.05 298.49,638.05 299.5,638.05 300.5,638.06 301.5,638.06 302.5,638.06 303.51,638.06 304.51,638.07 305.51,638.07 306.51,638.07 307.52,638.07 308.52,638.08 309.52,638.08 310.52,638.08 311.52,638.09 312.53,638.09 313.53,638.1 314.53,638.1 315.53,638.1 316.54,638.11 317.54,638.11 318.54,638.12 319.54,638.12 320.55,638.13 321.55,638.13 322.55,638.14 323.55,638.14 324.55,638.15 325.56,638.15 326.56,638.16 327.56,638.16 328.56,638.17 329.57,638.18 330.57,638.18 331.57,638.19 332.57,638.2 333.58,638.21 334.58,638.22 335.58,638.22 336.58,638.23 337.58,638.24 338.59,638.25 339.59,638.26 340.59,638.27 341.59,638.28 342.6,638.29 343.6,638.3 344.6,638.32 345.6,638.33 346.61,638.34 347.61,638.35 348.61,638.37 349.61,638.38 350.61,638.4 351.62,638.41 352.62,638.43 353.62,638.45 354.62,638.46 355.63,638.48 356.63,638.5 357.63,638.52 358.63,638.54 359.64,638.56 360.64,638.58 361.64,638.6 362.64,638.63 363.64,638.65 364.65,638.68 365.65,638.7 366.65,638.73 367.65,638.76 368.66,638.79 369.66,638.82 370.66,638.85 371.66,638.88 372.67,638.91 373.67,638.95 374.67,638.98 375.67,639.02 376.68,639.06 377.68,639.1 378.68,639.14 379.68,639.19 380.68,639.23 381.69,639.28 382.69,639.33 383.69,639.38 384.69,639.43 385.7,639.49 386.7,639.55 387.7,639.61 388.7,639.67 389.71,639.73 390.71,639.8 391.71,639.87 392.71,639.94 393.71,640.01 394.72,640.09 395.72,640.17 396.72,640.25 397.72,640.33 398.73,640.42 399.73,640.52 400.73,640.61 401.73,640.71 402.74,640.81 403.74,640.92 404.74,641.03 405.74,641.15 406.74,641.27 407.75,641.39 408.75,641.52 409.75,641.65 410.75,641.79 411.76,641.94 412.76,642.08 413.76,642.24 414.76,642.4 415.77,642.57 416.77,642.74 417.77,642.92 418.77,643.1 419.77,643.3 420.78,643.49 421.78,643.7 422.78,643.92 423.78,644.14 424.79,644.37 425.79,644.61 426.79,644.86 427.79,645.11 428.8,645.38 429.8,645.65 430.8,645.94 431.8,646.24 432.8,646.54 433.81,646.86 434.81,647.19 435.81,647.53 436.81,647.88 437.82,648.25 438.82,648.63 439.82,649.02 440.82,649.43 441.83,649.85 442.83,650.29 443.83,650.74 444.83,651.2 445.83,651.69 446.84,652.19 447.84,652.7 448.84,653.24 449.84,653.79 450.85,654.36 451.85,654.96 452.85,655.57 453.85,656.2 454.86,656.85 455.86,657.53 456.86,658.23 457.86,658.95 458.86,659.69 459.87,660.46 460.87,661.26 461.87,662.08 462.87,662.92 463.88,663.79 464.88,664.69 465.88,665.62 466.88,666.58 467.89,667.57 468.89,668.59 469.89,669.63 470.89,670.71 471.89,671.82 472.9,672.97 473.9,674.15 474.9,675.36 475.9,676.61 476.91,677.89 477.91,679.21 478.91,680.56 479.91,681.95 480.92,683.38 481.92,684.84 482.92,686.35 483.92,687.89 484.93,689.47 485.93,691.1 486.93,692.76 487.93,694.46 488.93,696.2 489.94,697.98 490.94,699.8 491.94,701.67 492.94,703.57 493.95,705.51 494.95,707.5 495.95,709.52 496.95,711.58 497.96,713.69 498.96,715.83 499.96,718.01 500.96,720.23 501.96,722.49 502.97,724.79 503.97,727.12 504.97,729.48 505.97,731.88 506.98,734.32 507.98,736.79 508.98,739.28 509.98,741.81 510.99,744.37 511.99,746.96 512.99,749.57 513.99,752.2 514.99,754.86 516,757.54 517,760.24 518,762.96 519,765.7 520.01,768.45 521.01,771.21 522.01,773.98 523.01,776.77 524.02,779.56 525.02,782.35 526.02,785.15 527.02,787.95 528.02,790.75 529.03,793.54 530.03,796.33 531.03,799.12 532.03,801.89 533.04,804.66 534.04,807.41 535.04,810.15 536.04,812.87 537.05,815.57 538.05,818.26 539.05,820.92 540.05,823.56 541.05,826.18 542.06,828.77 543.06,831.33 544.06,833.86 545.06,836.37 546.07,838.84 547.07,841.28 548.07,843.69 549.07,846.06 550.08,848.4 551.08,850.7 552.08,852.96 553.08,855.19 554.08,857.38 555.09,859.53 556.09,861.64 557.09,863.71 558.09,865.74 559.1,867.73 560.1,869.68 561.1,871.59 562.1,873.46 563.11,875.29 564.11,877.08 565.11,878.83 566.11,880.54 567.11,882.21 568.12,883.84 569.12,885.42 570.12,886.97 571.12,888.49 572.13,889.96 573.13,891.39 574.13,892.79 575.13,894.15 576.14,895.48 577.14,896.76 578.14,898.02 579.14,899.23 580.14,900.42 581.15,901.57 582.15,902.69 583.15,903.77 584.15,904.83 585.16,905.85 586.16,906.84 587.16,907.8 588.16,908.74 589.17,909.64 590.17,910.52 591.17,911.37 592.17,912.19 593.18,912.99 594.18,913.77 595.18,914.52 596.18,915.24 597.18,915.94 598.19,916.62 599.19,917.28 600.19,917.92 601.19,918.53 602.2,919.13 603.2,919.7 604.2,920.26 605.2,920.8 606.21,921.32 607.21,921.82 608.21,922.31 609.21,922.78 610.21,923.23 611.22,923.67 612.22,924.09 613.22,924.5 614.22,924.9 615.23,925.28 616.23,925.65 617.23,926 618.23,926.35 619.24,926.68 620.24,927 621.24,927.31 622.24,927.6 623.24,927.89 624.25,928.17 625.25,928.44 626.25,928.7 627.25,928.94 628.26,929.18 629.26,929.42 630.26,929.64 631.26,929.86 632.27,930.06 633.27,930.27 634.27,930.46" fill="none" stroke="#30469E" stroke-width="2.6" stroke-linejoin="round"/>
<line x1="164.2" y1="637.1" x2="190.6" y2="637.1" stroke="#682887" stroke-width="2.6" />
<polyline points="214.3,636.88 215.3,636.89 216.3,636.89 217.31,636.89 218.31,636.9 219.31,636.9 220.31,636.9 221.31,636.91 222.32,636.91 223.32,636.92 224.32,636.92 225.32,636.92 226.33,636.93 227.33,636.93 228.33,636.94 229.33,636.94 230.33,636.95 231.34,636.95 232.34,636.96 233.34,636.97 234.34,636.97 235.34,636.98 236.35,636.98 237.35,636.99 238.35,637 239.35,637 240.35,637.01 241.36,637.02 242.36,637.03 243.36,637.04 244.36,637.04 245.36,637.05 246.37,637.06 247.37,637.07 248.37,637.08 249.37,637.09 250.38,637.1 251.38,637.11 252.38,637.12 253.38,637.14 254.38,637.15 255.39,637.16 256.39,637.17 257.39,637.19 258.39,637.2 259.39,637.22 260.4,637.23 261.4,637.25 262.4,637.26 263.4,637.28 264.4,637.3 265.41,637.31 266.41,637.33 267.41,637.35 268.41,637.37 269.41,637.39 270.42,637.41 271.42,637.44 272.42,637.46 273.42,637.48 274.43,637.51 275.43,637.53 276.43,637.56 277.43,637.59 278.43,637.62 279.44,637.64 280.44,637.68 281.44,637.71 282.44,637.74 283.44,637.77 284.45,637.81 285.45,637.84 286.45,637.88 287.45,637.92 288.45,637.96 289.46,638 290.46,638.05 291.46,638.09 292.46,638.14 293.46,638.19 294.47,638.24 295.47,638.29 296.47,638.34 297.47,638.4 298.48,638.45 299.48,638.51 300.48,638.58 301.48,638.64 302.48,638.71 303.49,638.77 304.49,638.84 305.49,638.92 306.49,638.99 307.49,639.07 308.5,639.15 309.5,639.24 310.5,639.33 311.5,639.42 312.5,639.51 313.51,639.61 314.51,639.71 315.51,639.81 316.51,639.92 317.52,640.03 318.52,640.15 319.52,640.27 320.52,640.39 321.52,640.52 322.53,640.65 323.53,640.79 324.53,640.93 325.53,641.08 326.53,641.23 327.54,641.39 328.54,641.55 329.54,641.72 330.54,641.9 331.54,642.08 332.55,642.27 333.55,642.46 334.55,642.66 335.55,642.87 336.55,643.08 337.56,643.3 338.56,643.53 339.56,643.77 340.56,644.02 341.57,644.27 342.57,644.54 343.57,644.81 344.57,645.09 345.57,645.38 346.58,645.68 347.58,645.99 348.58,646.31 349.58,646.65 350.58,646.99 351.59,647.35 352.59,647.71 353.59,648.09 354.59,648.49 355.59,648.89 356.6,649.31 357.6,649.74 358.6,650.19 359.6,650.65 360.6,651.13 361.61,651.62 362.61,652.13 363.61,652.66 364.61,653.2 365.62,653.76 366.62,654.33 367.62,654.93 368.62,655.54 369.62,656.18 370.63,656.83 371.63,657.51 372.63,658.2 373.63,658.92 374.63,659.66 375.64,660.42 376.64,661.2 377.64,662.01 378.64,662.84 379.64,663.7 380.65,664.58 381.65,665.49 382.65,666.43 383.65,667.39 384.65,668.38 385.66,669.39 386.66,670.44 387.66,671.51 388.66,672.62 389.67,673.75 390.67,674.92 391.67,676.12 392.67,677.35 393.67,678.61 394.68,679.9 395.68,681.23 396.68,682.59 397.68,683.98 398.68,685.41 399.69,686.88 400.69,688.37 401.69,689.91 402.69,691.48 403.69,693.08 404.7,694.72 405.7,696.4 406.7,698.11 407.7,699.86 408.71,701.65 409.71,703.47 410.71,705.33 411.71,707.22 412.71,709.15 413.72,711.12 414.72,713.12 415.72,715.15 416.72,717.22 417.72,719.33 418.73,721.47 419.73,723.64 420.73,725.84 421.73,728.08 422.73,730.35 423.74,732.65 424.74,734.97 425.74,737.33 426.74,739.71 427.74,742.12 428.75,744.56 429.75,747.02 430.75,749.5 431.75,752 432.76,754.53 433.76,757.07 434.76,759.63 435.76,762.21 436.76,764.8 437.77,767.41 438.77,770.03 439.77,772.65 440.77,775.29 441.77,777.93 442.78,780.58 443.78,783.23 444.78,785.88 445.78,788.54 446.78,791.19 447.79,793.84 448.79,796.48 449.79,799.12 450.79,801.75 451.79,804.37 452.8,806.98 453.8,809.57 454.8,812.15 455.8,814.72 456.81,817.27 457.81,819.8 458.81,822.31 459.81,824.79 460.81,827.26 461.82,829.7 462.82,832.12 463.82,834.51 464.82,836.87 465.82,839.2 466.83,841.51 467.83,843.78 468.83,846.03 469.83,848.24 470.83,850.42 471.84,852.56 472.84,854.68 473.84,856.76 474.84,858.8 475.84,860.81 476.85,862.78 477.85,864.72 478.85,866.63 479.85,868.49 480.86,870.32 481.86,872.12 482.86,873.87 483.86,875.6 484.86,877.28 485.87,878.93 486.87,880.54 487.87,882.12 488.87,883.66 489.87,885.17 490.88,886.64 491.88,888.08 492.88,889.48 493.88,890.85 494.88,892.19 495.89,893.49 496.89,894.76 497.89,895.99 498.89,897.2 499.9,898.37 500.9,899.51 501.9,900.62 502.9,901.71 503.9,902.76 504.91,903.78 505.91,904.78 506.91,905.75 507.91,906.69 508.91,907.6 509.92,908.49 510.92,909.35 511.92,910.19 512.92,911.01 513.92,911.8 514.93,912.56 515.93,913.31 516.93,914.03 517.93,914.73 518.93,915.41 519.94,916.07 520.94,916.71 521.94,917.32 522.94,917.92 523.95,918.51 524.95,919.07 525.95,919.62 526.95,920.15 527.95,920.66 528.96,921.15 529.96,921.63 530.96,922.1 531.96,922.55 532.96,922.99 533.97,923.41 534.97,923.82 535.97,924.21 536.97,924.6 537.97,924.97 538.98,925.32 539.98,925.67 540.98,926.01 541.98,926.33 542.98,926.64 543.99,926.95 544.99,927.24 545.99,927.53 546.99,927.8 548,928.07 549,928.32 550,928.57 551,928.81 552,929.04 553.01,929.27 554.01,929.48 555.01,929.69 556.01,929.89 557.01,930.09 558.02,930.28 559.02,930.46 560.02,930.64 561.02,930.81 562.02,930.97 563.03,931.13 564.03,931.28 565.03,931.43 566.03,931.58 567.03,931.72 568.04,931.85 569.04,931.98 570.04,932.1 571.04,932.22 572.05,932.34 573.05,932.45 574.05,932.56 575.05,932.67 576.05,932.77 577.06,932.87 578.06,932.96 579.06,933.05" fill="none" stroke="#682887" stroke-width="2.6" stroke-linejoin="round"/>
<line x1="153" y1="775.9" x2="190.8" y2="775.9" stroke="#93651F" stroke-width="2.2" stroke-dasharray="5.3,3.2"/>
<text transform="translate(210.3,785.1) scale(1,1.02)" font-size="28.9" font-weight="normal" text-anchor="start" fill="#000000" >WT</text>
<path d="M164.9 808.2L179.1 808.2L172 822.4Z" fill="#682887"/>
<text transform="translate(210.6,824.7) scale(1,1.02)" font-size="28.9" font-weight="normal" text-anchor="start" fill="#000000" >Y95F</text>
<path d="M164.8 864.1L179 864.1L171.9 849.9Z" fill="#30469E"/>
<text transform="translate(210.7,866.1) scale(1,1.02)" font-size="28.9" font-weight="normal" text-anchor="start" fill="#000000" >I172M</text>
<circle cx="171.9" cy="901.6" r="7.2" fill="#088036"/>
<text transform="translate(210.7,910.8) scale(1,1.02)" font-size="28.9" font-weight="normal" text-anchor="start" fill="#000000" >S438T</text>
<line x1="829.5" y1="587.7" x2="829.5" y2="932.4" stroke="#000000" stroke-width="2.6" />
<line x1="815.9" y1="857.65" x2="829.5" y2="857.65" stroke="#000000" stroke-width="2.6" />
<line x1="815.9" y1="782.9" x2="829.5" y2="782.9" stroke="#000000" stroke-width="2.6" />
<line x1="815.9" y1="708.15" x2="829.5" y2="708.15" stroke="#000000" stroke-width="2.6" />
<line x1="815.9" y1="633.4" x2="829.5" y2="633.4" stroke="#000000" stroke-width="2.6" />
<line x1="815.8" y1="932.4" x2="879.4" y2="932.4" stroke="#000000" stroke-width="2.6" />
<line x1="903" y1="932.4" x2="1346.2" y2="932.4" stroke="#000000" stroke-width="2.6" />
<line x1="853.8" y1="932.4" x2="853.8" y2="946" stroke="#000000" stroke-width="2.6" />
<line x1="937.3" y1="932.4" x2="937.3" y2="946" stroke="#000000" stroke-width="2.6" />
<line x1="992.4" y1="932.4" x2="992.4" y2="946" stroke="#000000" stroke-width="2.6" />
<line x1="1047.5" y1="932.4" x2="1047.5" y2="946" stroke="#000000" stroke-width="2.6" />
<line x1="1102.6" y1="932.4" x2="1102.6" y2="946" stroke="#000000" stroke-width="2.6" />
<line x1="1157.7" y1="932.4" x2="1157.7" y2="946" stroke="#000000" stroke-width="2.6" />
<line x1="1212.8" y1="932.4" x2="1212.8" y2="946" stroke="#000000" stroke-width="2.6" />
<line x1="1267.9" y1="932.4" x2="1267.9" y2="946" stroke="#000000" stroke-width="2.6" />
<line x1="1323" y1="932.4" x2="1323" y2="946" stroke="#000000" stroke-width="2.6" />
<line x1="870.8" y1="940.7" x2="888.1" y2="923.6" stroke="#000000" stroke-width="2.6" />
<line x1="894.7" y1="940.7" x2="912" y2="923.6" stroke="#000000" stroke-width="2.6" />
<text transform="translate(812.5,942) scale(1,1.05)" font-size="26.5" font-weight="bold" text-anchor="end" fill="#000000" >0</text>
<text transform="translate(812.5,867.25) scale(1,1.05)" font-size="26.5" font-weight="bold" text-anchor="end" fill="#000000" >25</text>
<text transform="translate(812.5,792.5) scale(1,1.05)" font-size="26.5" font-weight="bold" text-anchor="end" fill="#000000" >50</text>
<text transform="translate(812.5,717.75) scale(1,1.05)" font-size="26.5" font-weight="bold" text-anchor="end" fill="#000000" >75</text>
<text transform="translate(812.5,643) scale(1,1.05)" font-size="26.5" font-weight="bold" text-anchor="end" fill="#000000" >100</text>
<text transform="translate(853.8,970.8) scale(1,1.05)" font-size="26.5" font-weight="bold" text-anchor="middle" fill="#000000" >ctrl</text>
<text transform="translate(937,975) scale(1,1.05)" font-size="26.5" font-weight="bold" text-anchor="middle" fill="#000000" >-11</text>
<text transform="translate(992.1,975) scale(1,1.05)" font-size="26.5" font-weight="bold" text-anchor="middle" fill="#000000" >-10</text>
<text transform="translate(1047.2,975) scale(1,1.05)" font-size="26.5" font-weight="bold" text-anchor="middle" fill="#000000" >-9</text>
<text transform="translate(1102.3,975) scale(1,1.05)" font-size="26.5" font-weight="bold" text-anchor="middle" fill="#000000" >-8</text>
<text transform="translate(1157.4,975) scale(1,1.05)" font-size="26.5" font-weight="bold" text-anchor="middle" fill="#000000" >-7</text>
<text transform="translate(1212.5,975) scale(1,1.05)" font-size="26.5" font-weight="bold" text-anchor="middle" fill="#000000" >-6</text>
<text transform="translate(1267.6,975) scale(1,1.05)" font-size="26.5" font-weight="bold" text-anchor="middle" fill="#000000" >-5</text>
<text transform="translate(1322.7,975) scale(1,1.05)" font-size="26.5" font-weight="bold" text-anchor="middle" fill="#000000" >-4</text>
<text x="1088.5" y="1015.1" font-size="28.8" font-weight="bold" text-anchor="middle" fill="#000000" >Log[VLZ] (M)</text>
<text transform="translate(717.5,869.6) rotate(-90)" font-size="28.8" font-weight="bold" text-anchor="start">[<tspan font-size="22" dy="-12.4">3</tspan><tspan dy="12.4">H]</tspan>5-HT uptake</text>
<text transform="translate(752,871.2) rotate(-90)" font-size="28.8" font-weight="bold" text-anchor="start">(in % of control)</text>
<text transform="translate(680.5,564.5) scale(1,1.025)" font-size="46" font-weight="bold" text-anchor="start" fill="#000000" >d</text>
<polyline points="937.3,633.41 938.3,633.41 939.31,633.41 940.31,633.41 941.32,633.41 942.32,633.41 943.32,633.41 944.33,633.41 945.33,633.41 946.33,633.41 947.34,633.41 948.34,633.42 949.35,633.42 950.35,633.42 951.35,633.42 952.36,633.42 953.36,633.42 954.37,633.43 955.37,633.43 956.37,633.43 957.38,633.43 958.38,633.44 959.38,633.44 960.39,633.44 961.39,633.44 962.4,633.45 963.4,633.45 964.4,633.46 965.41,633.46 966.41,633.47 967.42,633.47 968.42,633.48 969.42,633.48 970.43,633.49 971.43,633.5 972.43,633.51 973.44,633.52 974.44,633.53 975.45,633.54 976.45,633.55 977.45,633.56 978.46,633.57 979.46,633.59 980.47,633.6 981.47,633.62 982.47,633.64 983.48,633.66 984.48,633.68 985.48,633.7 986.49,633.73 987.49,633.76 988.5,633.79 989.5,633.82 990.5,633.85 991.51,633.89 992.51,633.93 993.52,633.97 994.52,634.02 995.52,634.07 996.53,634.13 997.53,634.19 998.53,634.25 999.54,634.32 1000.54,634.4 1001.55,634.48 1002.55,634.57 1003.55,634.67 1004.56,634.77 1005.56,634.89 1006.57,635.01 1007.57,635.14 1008.57,635.29 1009.58,635.44 1010.58,635.61 1011.58,635.79 1012.59,635.99 1013.59,636.2 1014.6,636.43 1015.6,636.68 1016.6,636.95 1017.61,637.24 1018.61,637.55 1019.62,637.89 1020.62,638.26 1021.62,638.66 1022.63,639.08 1023.63,639.55 1024.63,640.04 1025.64,640.58 1026.64,641.16 1027.65,641.79 1028.65,642.46 1029.65,643.19 1030.66,643.97 1031.66,644.82 1032.67,645.73 1033.67,646.7 1034.67,647.75 1035.68,648.88 1036.68,650.1 1037.68,651.4 1038.69,652.8 1039.69,654.29 1040.7,655.9 1041.7,657.61 1042.7,659.44 1043.71,661.4 1044.71,663.49 1045.72,665.72 1046.72,668.09 1047.72,670.61 1048.73,673.28 1049.73,676.12 1050.73,679.12 1051.74,682.3 1052.74,685.64 1053.75,689.17 1054.75,692.88 1055.75,696.77 1056.76,700.84 1057.76,705.09 1058.77,709.52 1059.77,714.13 1060.77,718.92 1061.78,723.87 1062.78,728.97 1063.78,734.23 1064.79,739.62 1065.79,745.14 1066.8,750.77 1067.8,756.5 1068.8,762.31 1069.81,768.19 1070.81,774.11 1071.82,780.05 1072.82,786.01 1073.82,791.96 1074.83,797.88 1075.83,803.75 1076.83,809.56 1077.84,815.28 1078.84,820.91 1079.85,826.42 1080.85,831.81 1081.85,837.06 1082.86,842.16 1083.86,847.1 1084.87,851.87 1085.87,856.48 1086.87,860.9 1087.88,865.15 1088.88,869.21 1089.88,873.09 1090.89,876.79 1091.89,880.31 1092.9,883.65 1093.9,886.81 1094.9,889.81 1095.91,892.64 1096.91,895.31 1097.92,897.82 1098.92,900.18 1099.92,902.4 1100.93,904.49 1101.93,906.44 1102.93,908.27 1103.94,909.98 1104.94,911.58 1105.95,913.07 1106.95,914.46 1107.95,915.76 1108.96,916.97 1109.96,918.09 1110.97,919.14 1111.97,920.12 1112.97,921.02 1113.98,921.86 1114.98,922.64 1115.98,923.37 1116.99,924.04 1117.99,924.66 1119,925.24 1120,925.78 1121,926.28 1122.01,926.74 1123.01,927.16 1124.02,927.56 1125.02,927.92 1126.02,928.26 1127.03,928.57 1128.03,928.86 1129.03,929.13 1130.04,929.38 1131.04,929.61 1132.05,929.82 1133.05,930.02 1134.05,930.2 1135.06,930.37 1136.06,930.52 1137.07,930.66 1138.07,930.8 1139.07,930.92 1140.08,931.03 1141.08,931.14 1142.08,931.23 1143.09,931.32 1144.09,931.4 1145.1,931.48 1146.1,931.55 1147.1,931.61 1148.11,931.67 1149.11,931.73 1150.12,931.78 1151.12,931.83 1152.12,931.87 1153.13,931.91 1154.13,931.95 1155.13,931.98 1156.14,932.02 1157.14,932.05 1158.15,932.07 1159.15,932.1 1160.15,932.12 1161.16,932.14 1162.16,932.16 1163.17,932.18 1164.17,932.2 1165.17,932.21 1166.18,932.23 1167.18,932.24 1168.18,932.25 1169.19,932.26 1170.19,932.27 1171.2,932.28 1172.2,932.29 1173.2,932.3 1174.21,932.31 1175.21,932.32 1176.22,932.32 1177.22,932.33 1178.22,932.33 1179.23,932.34 1180.23,932.34 1181.23,932.35 1182.24,932.35 1183.24,932.36 1184.25,932.36 1185.25,932.36" fill="none" stroke="#93651F" stroke-width="2.2" stroke-linejoin="round" stroke-dasharray="5.3,3.2"/>
<line x1="829.5" y1="637.8" x2="879.4" y2="637.8" stroke="#088036" stroke-width="2.6" />
<line x1="829.5" y1="636" x2="879.4" y2="636" stroke="#30469E" stroke-width="2.6" />
<line x1="829.5" y1="633.4" x2="879.4" y2="633.4" stroke="#682887" stroke-width="2.6" />
<line x1="992.4" y1="652.3" x2="992.4" y2="672.3" stroke="#30469E" stroke-width="2.0" />
<line x1="985.3" y1="652.3" x2="999.5" y2="652.3" stroke="#30469E" stroke-width="2.4" />
<line x1="985.3" y1="672.3" x2="999.5" y2="672.3" stroke="#30469E" stroke-width="2.4" />
<line x1="1047.5" y1="719" x2="1047.5" y2="733" stroke="#30469E" stroke-width="2.0" />
<line x1="1040.4" y1="719" x2="1054.6" y2="719" stroke="#30469E" stroke-width="2.4" />
<line x1="1040.4" y1="733" x2="1054.6" y2="733" stroke="#30469E" stroke-width="2.4" />
<line x1="1075.05" y1="798" x2="1075.05" y2="814" stroke="#30469E" stroke-width="2.0" />
<line x1="1067.95" y1="798" x2="1082.15" y2="798" stroke="#30469E" stroke-width="2.4" />
<line x1="1067.95" y1="814" x2="1082.15" y2="814" stroke="#30469E" stroke-width="2.4" />
<path d="M846.7 647.1L860.9 647.1L853.8 632.9Z" fill="#30469E"/>
<path d="M985.3 669.4L999.5 669.4L992.4 655.2Z" fill="#30469E"/>
<path d="M1012.85 678.1L1027.05 678.1L1019.95 663.9Z" fill="#30469E"/>
<path d="M1040.4 733.1L1054.6 733.1L1047.5 718.9Z" fill="#30469E"/>
<path d="M1067.95 813.1L1082.15 813.1L1075.05 798.9Z" fill="#30469E"/>
<path d="M1095.5 904.1L1109.7 904.1L1102.6 889.9Z" fill="#30469E"/>
<path d="M1123.05 926.1L1137.25 926.1L1130.15 911.9Z" fill="#30469E"/>
<path d="M1150.6 935.1L1164.8 935.1L1157.7 920.9Z" fill="#30469E"/>
<line x1="853.8" y1="635.5" x2="853.8" y2="650.5" stroke="#088036" stroke-width="2.0" />
<line x1="846.6" y1="635.5" x2="861" y2="635.5" stroke="#088036" stroke-width="2.4" />
<line x1="846.6" y1="650.5" x2="861" y2="650.5" stroke="#088036" stroke-width="2.4" />
<line x1="937.3" y1="625.6" x2="937.3" y2="644.9" stroke="#088036" stroke-width="2.0" />
<line x1="930.1" y1="625.6" x2="944.5" y2="625.6" stroke="#088036" stroke-width="2.4" />
<line x1="930.1" y1="644.9" x2="944.5" y2="644.9" stroke="#088036" stroke-width="2.4" />
<line x1="964.85" y1="635.4" x2="964.85" y2="651.4" stroke="#088036" stroke-width="2.0" />
<line x1="957.65" y1="635.4" x2="972.05" y2="635.4" stroke="#088036" stroke-width="2.4" />
<line x1="957.65" y1="651.4" x2="972.05" y2="651.4" stroke="#088036" stroke-width="2.4" />
<line x1="992.4" y1="638.3" x2="992.4" y2="666.3" stroke="#088036" stroke-width="2.0" />
<line x1="985.2" y1="638.3" x2="999.6" y2="638.3" stroke="#088036" stroke-width="2.4" />
<line x1="985.2" y1="666.3" x2="999.6" y2="666.3" stroke="#088036" stroke-width="2.4" />
<line x1="1019.95" y1="643.5" x2="1019.95" y2="677.5" stroke="#088036" stroke-width="2.0" />
<line x1="1012.75" y1="643.5" x2="1027.15" y2="643.5" stroke="#088036" stroke-width="2.4" />
<line x1="1012.75" y1="677.5" x2="1027.15" y2="677.5" stroke="#088036" stroke-width="2.4" />
<line x1="1047.5" y1="710.5" x2="1047.5" y2="746.5" stroke="#088036" stroke-width="2.0" />
<line x1="1040.3" y1="710.5" x2="1054.7" y2="710.5" stroke="#088036" stroke-width="2.4" />
<line x1="1040.3" y1="746.5" x2="1054.7" y2="746.5" stroke="#088036" stroke-width="2.4" />
<line x1="1075.05" y1="792" x2="1075.05" y2="821" stroke="#088036" stroke-width="2.0" />
<line x1="1067.85" y1="792" x2="1082.25" y2="792" stroke="#088036" stroke-width="2.4" />
<line x1="1067.85" y1="821" x2="1082.25" y2="821" stroke="#088036" stroke-width="2.4" />
<circle cx="853.8" cy="643" r="7.2" fill="#088036"/>
<circle cx="937.3" cy="634.8" r="7.2" fill="#088036"/>
<circle cx="964.85" cy="643.4" r="7.2" fill="#088036"/>
<circle cx="992.4" cy="652.3" r="7.2" fill="#088036"/>
<circle cx="1019.95" cy="660.5" r="7.2" fill="#088036"/>
<circle cx="1047.5" cy="728.5" r="7.2" fill="#088036"/>
<circle cx="1075.05" cy="806.5" r="7.2" fill="#088036"/>
<circle cx="1102.6" cy="893.8" r="7.2" fill="#088036"/>
<circle cx="1130.15" cy="917.4" r="7.2" fill="#088036"/>
<circle cx="1157.7" cy="926" r="7.2" fill="#088036"/>
<line x1="937.3" y1="627.9" x2="937.3" y2="641.7" stroke="#682887" stroke-width="2.0" />
<line x1="930.2" y1="627.9" x2="944.4" y2="627.9" stroke="#682887" stroke-width="2.4" />
<line x1="930.2" y1="641.7" x2="944.4" y2="641.7" stroke="#682887" stroke-width="2.4" />
<line x1="964.85" y1="628.8" x2="964.85" y2="645.3" stroke="#682887" stroke-width="2.0" />
<line x1="957.75" y1="628.8" x2="971.95" y2="628.8" stroke="#682887" stroke-width="2.4" />
<line x1="957.75" y1="645.3" x2="971.95" y2="645.3" stroke="#682887" stroke-width="2.4" />
<line x1="992.4" y1="631.7" x2="992.4" y2="655.1" stroke="#682887" stroke-width="2.0" />
<line x1="985.3" y1="631.7" x2="999.5" y2="631.7" stroke="#682887" stroke-width="2.4" />
<line x1="985.3" y1="655.1" x2="999.5" y2="655.1" stroke="#682887" stroke-width="2.4" />
<line x1="1047.5" y1="729" x2="1047.5" y2="769" stroke="#682887" stroke-width="2.0" />
<line x1="1040.4" y1="729" x2="1054.6" y2="729" stroke="#682887" stroke-width="2.4" />
<line x1="1040.4" y1="769" x2="1054.6" y2="769" stroke="#682887" stroke-width="2.4" />
<line x1="1075.05" y1="827.5" x2="1075.05" y2="851.5" stroke="#682887" stroke-width="2.0" />
<line x1="1067.95" y1="827.5" x2="1082.15" y2="827.5" stroke="#682887" stroke-width="2.4" />
<line x1="1067.95" y1="851.5" x2="1082.15" y2="851.5" stroke="#682887" stroke-width="2.4" />
<path d="M846.7 633.4L860.9 633.4L853.8 647.6Z" fill="#682887"/>
<path d="M930.2 626.3L944.4 626.3L937.3 640.5Z" fill="#682887"/>
<path d="M957.75 627.2L971.95 627.2L964.85 641.4Z" fill="#682887"/>
<path d="M985.3 636.3L999.5 636.3L992.4 650.5Z" fill="#682887"/>
<path d="M1012.85 646.9L1027.05 646.9L1019.95 661.1Z" fill="#682887"/>
<path d="M1040.4 741.9L1054.6 741.9L1047.5 756.1Z" fill="#682887"/>
<path d="M1067.95 832.4L1082.15 832.4L1075.05 846.6Z" fill="#682887"/>
<path d="M1095.5 901.8L1109.7 901.8L1102.6 916Z" fill="#682887"/>
<path d="M1123.05 916.8L1137.25 916.8L1130.15 931Z" fill="#682887"/>
<path d="M1150.6 920.6L1164.8 920.6L1157.7 934.8Z" fill="#682887"/>
<polyline points="903,637.98 904,637.98 905.01,637.99 906.01,637.99 907.01,638 908.01,638 909.02,638.01 910.02,638.02 911.02,638.02 912.02,638.03 913.03,638.04 914.03,638.05 915.03,638.05 916.04,638.06 917.04,638.07 918.04,638.08 919.04,638.09 920.05,638.1 921.05,638.11 922.05,638.12 923.06,638.13 924.06,638.15 925.06,638.16 926.06,638.17 927.07,638.19 928.07,638.2 929.07,638.22 930.07,638.24 931.08,638.25 932.08,638.27 933.08,638.29 934.09,638.31 935.09,638.33 936.09,638.36 937.09,638.38 938.1,638.4 939.1,638.43 940.1,638.46 941.1,638.49 942.11,638.52 943.11,638.55 944.11,638.58 945.12,638.61 946.12,638.65 947.12,638.69 948.12,638.73 949.13,638.77 950.13,638.82 951.13,638.86 952.14,638.91 953.14,638.96 954.14,639.02 955.14,639.07 956.15,639.13 957.15,639.19 958.15,639.26 959.15,639.33 960.16,639.4 961.16,639.47 962.16,639.55 963.17,639.64 964.17,639.72 965.17,639.82 966.17,639.91 967.18,640.01 968.18,640.12 969.18,640.23 970.18,640.35 971.19,640.47 972.19,640.6 973.19,640.73 974.2,640.87 975.2,641.02 976.2,641.17 977.2,641.34 978.21,641.51 979.21,641.69 980.21,641.87 981.21,642.07 982.22,642.28 983.22,642.49 984.22,642.72 985.23,642.96 986.23,643.21 987.23,643.47 988.23,643.74 989.24,644.03 990.24,644.33 991.24,644.65 992.25,644.98 993.25,645.32 994.25,645.69 995.25,646.07 996.26,646.46 997.26,646.88 998.26,647.32 999.26,647.77 1000.27,648.25 1001.27,648.75 1002.27,649.27 1003.28,649.82 1004.28,650.39 1005.28,650.99 1006.28,651.62 1007.29,652.27 1008.29,652.96 1009.29,653.67 1010.29,654.42 1011.3,655.19 1012.3,656.01 1013.3,656.86 1014.31,657.74 1015.31,658.67 1016.31,659.63 1017.31,660.64 1018.32,661.68 1019.32,662.77 1020.32,663.91 1021.33,665.09 1022.33,666.32 1023.33,667.6 1024.33,668.94 1025.34,670.32 1026.34,671.76 1027.34,673.25 1028.34,674.8 1029.35,676.4 1030.35,678.07 1031.35,679.8 1032.36,681.58 1033.36,683.43 1034.36,685.35 1035.36,687.32 1036.37,689.37 1037.37,691.48 1038.37,693.65 1039.37,695.89 1040.38,698.2 1041.38,700.58 1042.38,703.03 1043.39,705.54 1044.39,708.12 1045.39,710.76 1046.39,713.48 1047.4,716.25 1048.4,719.1 1049.4,722 1050.41,724.97 1051.41,727.99 1052.41,731.08 1053.41,734.22 1054.42,737.41 1055.42,740.66 1056.42,743.95 1057.42,747.29 1058.43,750.67 1059.43,754.09 1060.43,757.54 1061.44,761.03 1062.44,764.54 1063.44,768.08 1064.44,771.64 1065.45,775.22 1066.45,778.8 1067.45,782.4 1068.45,785.99 1069.46,789.59 1070.46,793.18 1071.46,796.76 1072.47,800.33 1073.47,803.88 1074.47,807.41 1075.47,810.91 1076.48,814.38 1077.48,817.82 1078.48,821.22 1079.49,824.58 1080.49,827.9 1081.49,831.17 1082.49,834.39 1083.5,837.56 1084.5,840.67 1085.5,843.73 1086.5,846.73 1087.51,849.66 1088.51,852.54 1089.51,855.35 1090.52,858.1 1091.52,860.78 1092.52,863.4 1093.52,865.94 1094.53,868.42 1095.53,870.84 1096.53,873.18 1097.53,875.46 1098.54,877.67 1099.54,879.82 1100.54,881.89 1101.55,883.9 1102.55,885.85 1103.55,887.74 1104.55,889.56 1105.56,891.31 1106.56,893.01 1107.56,894.65 1108.56,896.23 1109.57,897.75 1110.57,899.22 1111.57,900.63 1112.58,901.99 1113.58,903.29 1114.58,904.55 1115.58,905.76 1116.59,906.92 1117.59,908.03 1118.59,909.1 1119.6,910.13 1120.6,911.11 1121.6,912.06 1122.6,912.97 1123.61,913.83 1124.61,914.67 1125.61,915.46 1126.61,916.23 1127.62,916.96 1128.62,917.66 1129.62,918.33 1130.63,918.97 1131.63,919.58 1132.63,920.17 1133.63,920.73 1134.64,921.26 1135.64,921.77 1136.64,922.26 1137.64,922.73 1138.65,923.18 1139.65,923.6 1140.65,924.01 1141.66,924.4 1142.66,924.77 1143.66,925.13 1144.66,925.47 1145.67,925.79 1146.67,926.1 1147.67,926.39 1148.68,926.67 1149.68,926.94 1150.68,927.2 1151.68,927.44 1152.69,927.67 1153.69,927.89 1154.69,928.11 1155.69,928.31 1156.7,928.5 1157.7,928.68" fill="none" stroke="#088036" stroke-width="2.6" stroke-linejoin="round"/>
<polyline points="903,636.28 904,636.29 905.01,636.3 906.01,636.31 907.01,636.32 908.01,636.33 909.02,636.34 910.02,636.35 911.02,636.36 912.02,636.37 913.03,636.39 914.03,636.4 915.03,636.41 916.04,636.43 917.04,636.44 918.04,636.46 919.04,636.47 920.05,636.49 921.05,636.51 922.05,636.53 923.06,636.55 924.06,636.57 925.06,636.59 926.06,636.62 927.07,636.64 928.07,636.66 929.07,636.69 930.07,636.72 931.08,636.75 932.08,636.78 933.08,636.81 934.09,636.84 935.09,636.87 936.09,636.91 937.09,636.95 938.1,636.98 939.1,637.02 940.1,637.07 941.1,637.11 942.11,637.16 943.11,637.21 944.11,637.26 945.12,637.31 946.12,637.36 947.12,637.42 948.12,637.48 949.13,637.54 950.13,637.61 951.13,637.68 952.14,637.75 953.14,637.83 954.14,637.91 955.14,637.99 956.15,638.07 957.15,638.16 958.15,638.26 959.15,638.35 960.16,638.46 961.16,638.56 962.16,638.67 963.17,638.79 964.17,638.91 965.17,639.04 966.17,639.17 967.18,639.31 968.18,639.46 969.18,639.61 970.18,639.77 971.19,639.93 972.19,640.1 973.19,640.28 974.2,640.47 975.2,640.67 976.2,640.87 977.2,641.09 978.21,641.31 979.21,641.54 980.21,641.78 981.21,642.04 982.22,642.3 983.22,642.58 984.22,642.87 985.23,643.17 986.23,643.48 987.23,643.81 988.23,644.15 989.24,644.51 990.24,644.88 991.24,645.27 992.25,645.67 993.25,646.1 994.25,646.53 995.25,646.99 996.26,647.47 997.26,647.97 998.26,648.48 999.26,649.02 1000.27,649.59 1001.27,650.17 1002.27,650.78 1003.28,651.41 1004.28,652.07 1005.28,652.76 1006.28,653.47 1007.29,654.22 1008.29,654.99 1009.29,655.79 1010.29,656.62 1011.3,657.49 1012.3,658.39 1013.3,659.33 1014.31,660.3 1015.31,661.31 1016.31,662.35 1017.31,663.44 1018.32,664.56 1019.32,665.73 1020.32,666.94 1021.33,668.19 1022.33,669.48 1023.33,670.83 1024.33,672.21 1025.34,673.65 1026.34,675.13 1027.34,676.67 1028.34,678.25 1029.35,679.89 1030.35,681.57 1031.35,683.31 1032.36,685.11 1033.36,686.95 1034.36,688.86 1035.36,690.81 1036.37,692.83 1037.37,694.9 1038.37,697.02 1039.37,699.2 1040.38,701.44 1041.38,703.74 1042.38,706.09 1043.39,708.5 1044.39,710.96 1045.39,713.48 1046.39,716.05 1047.4,718.67 1048.4,721.35 1049.4,724.08 1050.41,726.85 1051.41,729.68 1052.41,732.55 1053.41,735.47 1054.42,738.43 1055.42,741.43 1056.42,744.47 1057.42,747.55 1058.43,750.66 1059.43,753.8 1060.43,756.97 1061.44,760.17 1062.44,763.39 1063.44,766.63 1064.44,769.89 1065.45,773.16 1066.45,776.45 1067.45,779.74 1068.45,783.03 1069.46,786.33 1070.46,789.62 1071.46,792.91 1072.47,796.19 1073.47,799.46 1074.47,802.72 1075.47,805.95 1076.48,809.17 1077.48,812.36 1078.48,815.52 1079.49,818.66 1080.49,821.76 1081.49,824.83 1082.49,827.86 1083.5,830.85 1084.5,833.8 1085.5,836.7 1086.5,839.56 1087.51,842.38 1088.51,845.14 1089.51,847.85 1090.52,850.52 1091.52,853.13 1092.52,855.69 1093.52,858.19 1094.53,860.64 1095.53,863.03 1096.53,865.36 1097.53,867.64 1098.54,869.87 1099.54,872.04 1100.54,874.15 1101.55,876.2 1102.55,878.2 1103.55,880.14 1104.55,882.03 1105.56,883.86 1106.56,885.64 1107.56,887.37 1108.56,889.04 1109.57,890.66 1110.57,892.23 1111.57,893.75 1112.58,895.23 1113.58,896.65 1114.58,898.02 1115.58,899.35 1116.59,900.64 1117.59,901.88 1118.59,903.07 1119.6,904.23 1120.6,905.34 1121.6,906.42 1122.6,907.45 1123.61,908.45 1124.61,909.41 1125.61,910.34 1126.61,911.23 1127.62,912.09 1128.62,912.92 1129.62,913.71 1130.63,914.47 1131.63,915.21 1132.63,915.92 1133.63,916.6 1134.64,917.25 1135.64,917.88 1136.64,918.48 1137.64,919.06 1138.65,919.61 1139.65,920.15 1140.65,920.66 1141.66,921.15 1142.66,921.62 1143.66,922.07 1144.66,922.51 1145.67,922.93 1146.67,923.33 1147.67,923.71 1148.68,924.08 1149.68,924.43 1150.68,924.77 1151.68,925.09 1152.69,925.4 1153.69,925.7 1154.69,925.98 1155.69,926.26 1156.7,926.52 1157.7,926.77" fill="none" stroke="#30469E" stroke-width="2.6" stroke-linejoin="round"/>
<polyline points="903,633.43 904,633.43 905.01,633.43 906.01,633.44 907.01,633.44 908.01,633.44 909.02,633.44 910.02,633.45 911.02,633.45 912.02,633.45 913.03,633.46 914.03,633.46 915.03,633.46 916.04,633.47 917.04,633.47 918.04,633.47 919.04,633.48 920.05,633.48 921.05,633.49 922.05,633.49 923.06,633.5 924.06,633.51 925.06,633.51 926.06,633.52 927.07,633.53 928.07,633.53 929.07,633.54 930.07,633.55 931.08,633.56 932.08,633.57 933.08,633.58 934.09,633.59 935.09,633.6 936.09,633.62 937.09,633.63 938.1,633.64 939.1,633.66 940.1,633.67 941.1,633.69 942.11,633.71 943.11,633.73 944.11,633.75 945.12,633.77 946.12,633.79 947.12,633.81 948.12,633.84 949.13,633.87 950.13,633.89 951.13,633.92 952.14,633.96 953.14,633.99 954.14,634.03 955.14,634.06 956.15,634.1 957.15,634.15 958.15,634.19 959.15,634.24 960.16,634.29 961.16,634.35 962.16,634.4 963.17,634.46 964.17,634.53 965.17,634.6 966.17,634.67 967.18,634.75 968.18,634.83 969.18,634.91 970.18,635.01 971.19,635.1 972.19,635.21 973.19,635.32 974.2,635.43 975.2,635.55 976.2,635.68 977.2,635.82 978.21,635.97 979.21,636.12 980.21,636.29 981.21,636.46 982.22,636.65 983.22,636.84 984.22,637.05 985.23,637.27 986.23,637.5 987.23,637.75 988.23,638.01 989.24,638.28 990.24,638.57 991.24,638.88 992.25,639.21 993.25,639.56 994.25,639.92 995.25,640.31 996.26,640.72 997.26,641.15 998.26,641.61 999.26,642.1 1000.27,642.61 1001.27,643.15 1002.27,643.73 1003.28,644.33 1004.28,644.97 1005.28,645.65 1006.28,646.36 1007.29,647.11 1008.29,647.91 1009.29,648.75 1010.29,649.63 1011.3,650.56 1012.3,651.54 1013.3,652.58 1014.31,653.66 1015.31,654.81 1016.31,656.01 1017.31,657.28 1018.32,658.61 1019.32,660.01 1020.32,661.48 1021.33,663.02 1022.33,664.63 1023.33,666.32 1024.33,668.09 1025.34,669.95 1026.34,671.88 1027.34,673.91 1028.34,676.02 1029.35,678.23 1030.35,680.53 1031.35,682.92 1032.36,685.41 1033.36,688 1034.36,690.68 1035.36,693.47 1036.37,696.36 1037.37,699.34 1038.37,702.43 1039.37,705.62 1040.38,708.9 1041.38,712.29 1042.38,715.76 1043.39,719.34 1044.39,723 1045.39,726.75 1046.39,730.59 1047.4,734.5 1048.4,738.49 1049.4,742.55 1050.41,746.68 1051.41,750.87 1052.41,755.11 1053.41,759.39 1054.42,763.72 1055.42,768.08 1056.42,772.46 1057.42,776.86 1058.43,781.28 1059.43,785.69 1060.43,790.11 1061.44,794.5 1062.44,798.88 1063.44,803.23 1064.44,807.55 1065.45,811.82 1066.45,816.05 1067.45,820.22 1068.45,824.33 1069.46,828.37 1070.46,832.35 1071.46,836.24 1072.47,840.05 1073.47,843.78 1074.47,847.42 1075.47,850.97 1076.48,854.42 1077.48,857.78 1078.48,861.04 1079.49,864.2 1080.49,867.26 1081.49,870.22 1082.49,873.08 1083.5,875.84 1084.5,878.5 1085.5,881.06 1086.5,883.52 1087.51,885.89 1088.51,888.17 1089.51,890.35 1090.52,892.44 1091.52,894.44 1092.52,896.35 1093.52,898.19 1094.53,899.94 1095.53,901.61 1096.53,903.2 1097.53,904.72 1098.54,906.17 1099.54,907.55 1100.54,908.86 1101.55,910.11 1102.55,911.3 1103.55,912.43 1104.55,913.5 1105.56,914.52 1106.56,915.49 1107.56,916.41 1108.56,917.28 1109.57,918.11 1110.57,918.89 1111.57,919.63 1112.58,920.33 1113.58,921 1114.58,921.63 1115.58,922.23 1116.59,922.79 1117.59,923.33 1118.59,923.83 1119.6,924.31 1120.6,924.76 1121.6,925.19 1122.6,925.59 1123.61,925.98 1124.61,926.34 1125.61,926.68 1126.61,927 1127.62,927.31 1128.62,927.59 1129.62,927.87 1130.63,928.12 1131.63,928.36 1132.63,928.59 1133.63,928.81 1134.64,929.01 1135.64,929.2 1136.64,929.39 1137.64,929.56 1138.65,929.72 1139.65,929.87 1140.65,930.02 1141.66,930.15 1142.66,930.28 1143.66,930.4 1144.66,930.51 1145.67,930.62 1146.67,930.72 1147.67,930.82 1148.68,930.91 1149.68,930.99 1150.68,931.07 1151.68,931.15 1152.69,931.22 1153.69,931.29 1154.69,931.35 1155.69,931.41 1156.7,931.47 1157.7,931.52" fill="none" stroke="#682887" stroke-width="2.6" stroke-linejoin="round"/>
<line x1="842.3" y1="772.8" x2="879.8" y2="772.8" stroke="#93651F" stroke-width="2.2" stroke-dasharray="5.3,3.2"/>
<text transform="translate(899.5,782) scale(1,1.02)" font-size="28.9" font-weight="normal" text-anchor="start" fill="#000000" >WT</text>
<path d="M852.2 805.1L866.4 805.1L859.3 819.3Z" fill="#682887"/>
<text transform="translate(897.5,821.6) scale(1,1.02)" font-size="28.9" font-weight="normal" text-anchor="start" fill="#000000" >Y95F</text>
<path d="M853.9 860.8L868.1 860.8L861 846.6Z" fill="#30469E"/>
<text transform="translate(899.5,862.9) scale(1,1.02)" font-size="28.9" font-weight="normal" text-anchor="start" fill="#000000" >I172M</text>
<circle cx="861.1" cy="898.3" r="7.2" fill="#088036"/>
<text transform="translate(899,907.4) scale(1,1.02)" font-size="28.9" font-weight="normal" text-anchor="start" fill="#000000" >S438T</text>
</svg>
</body></html>
